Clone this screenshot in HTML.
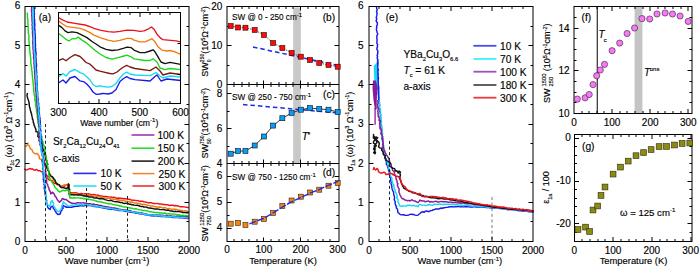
<!DOCTYPE html><html><head><meta charset="utf-8"><style>html,body{margin:0;padding:0;background:#fff;}svg{display:block;} text{stroke:#000;stroke-width:0.15px;}</style></head><body>
<svg width="700" height="269" viewBox="0 0 700 269" font-family="Liberation Sans, sans-serif" fill="#000">
<rect x="0" y="0" width="700" height="269" fill="#fff"/>
<polyline points="24.50,169.00 25.70,169.62 27.00,170.00 28.44,169.14 30.00,168.50 31.08,169.06 32.46,168.87 33.40,169.80 35.10,170.21 36.70,169.50 38.14,170.69 40.00,170.80 41.20,171.78 42.96,171.73 44.00,173.00 44.97,173.96 46.21,174.64 47.00,175.80 48.12,176.68 47.82,178.50 48.51,179.67 50.00,180.30 51.89,180.38 53.00,181.90 54.18,183.31 56.00,183.60 56.89,184.45 58.12,184.83 59.22,185.38 60.00,186.40 62.00,187.50 63.66,186.92 65.00,185.80 67.00,184.70 68.50,184.00 68.71,185.29 68.43,186.63 68.61,187.93 69.69,189.13 68.69,190.55 69.30,191.80 70.39,192.43 71.57,192.72 72.81,192.78 74.00,193.00 75.23,192.80 76.43,192.89 77.63,193.11 78.77,193.79 80.00,193.60 81.26,193.54 82.51,193.66 83.73,194.10 85.01,193.77 86.25,194.01 87.50,194.01 88.77,193.82 90.00,194.20 91.24,194.45 92.46,194.82 93.79,194.54 95.03,194.78 96.26,195.10 97.55,195.03 98.75,195.54 99.97,195.95 101.23,196.03 102.50,196.14 103.71,196.55 105.00,196.50 106.25,196.40 107.44,196.84 108.68,196.85 109.88,197.15 111.14,196.95 112.31,197.56 113.59,197.23 114.81,197.42 115.97,198.01 117.19,198.26 118.45,198.04 119.67,198.17 120.91,198.20 122.13,198.37 123.32,198.75 124.58,198.59 125.81,198.69 127.00,199.10 128.22,199.26 129.46,199.26 130.62,199.79 131.81,200.10 133.02,200.27 134.27,200.25 135.49,200.36 136.69,200.61 137.95,200.51 139.08,201.19 140.33,201.13 141.55,201.31 142.78,201.34 143.95,201.79 145.15,202.08 146.38,202.14 147.54,202.67 148.77,202.73 150.00,202.80 151.23,202.77 152.42,203.11 153.60,203.53 154.85,203.40 156.05,203.61 157.31,203.38 158.49,203.82 159.70,203.95 160.92,204.05 162.13,204.21 163.33,204.47 164.55,204.59 165.76,204.70 167.00,204.62 168.19,204.96 169.36,205.48 170.62,205.24 171.86,205.12 173.08,205.25 174.25,205.76 175.50,205.57 176.71,205.75 177.92,205.91 179.10,206.29 180.27,206.81 181.53,206.61 182.74,206.74 183.96,206.87 185.16,207.06 186.38,207.17 187.57,207.51 188.80,207.50" fill="none" stroke="#e8141c" stroke-width="1.45" stroke-linejoin="round" />
<polyline points="26.00,147.00 26.59,145.63 27.43,144.38 28.00,143.00 27.79,144.53 29.06,145.48 29.49,146.76 30.00,148.00 30.68,149.10 32.04,149.65 32.38,151.01 33.02,152.15 34.00,153.00 35.25,153.77 36.70,153.50 38.02,154.17 38.42,155.45 39.46,156.31 39.09,158.09 39.98,159.05 41.67,159.47 41.70,161.00 42.19,162.54 43.26,163.39 44.67,163.84 45.90,164.50 46.07,165.73 47.22,166.65 47.00,168.00 48.32,169.11 47.95,170.82 49.25,171.93 49.00,173.60 50.21,174.39 50.88,175.54 51.95,176.42 52.00,178.00 52.85,178.86 53.68,179.73 53.94,181.11 55.17,181.62 56.00,182.50 56.84,183.52 58.00,184.15 58.81,185.20 60.00,185.80 62.00,185.80 63.47,185.18 65.00,184.70 67.00,185.30 68.30,186.13 69.00,187.50 68.31,189.07 68.52,190.52 68.99,191.93 69.80,193.30 71.06,193.59 72.37,193.47 73.65,193.56 74.92,193.75 76.21,193.75 77.43,194.39 78.73,194.28 80.00,194.50 81.23,194.85 82.51,194.65 83.72,195.16 84.98,195.19 86.28,194.71 87.52,194.97 88.72,195.57 90.00,195.40 91.25,195.60 92.44,196.16 93.76,195.98 95.05,195.97 96.23,196.57 97.47,196.89 98.78,196.76 100.05,196.85 101.27,197.23 102.44,197.89 103.72,197.96 105.00,198.00 106.26,197.92 107.47,198.19 108.71,198.27 109.93,198.43 111.08,199.12 112.37,198.88 113.55,199.32 114.78,199.43 116.03,199.44 117.20,199.99 118.48,199.76 119.65,200.30 120.93,200.12 122.12,200.51 123.36,200.55 124.58,200.77 125.73,201.44 127.00,201.30 128.17,201.75 129.45,201.64 130.58,202.27 131.88,202.05 133.07,202.41 134.22,202.96 135.45,203.06 136.74,202.92 137.83,203.77 139.14,203.47 140.35,203.74 141.49,204.33 142.76,204.26 143.97,204.48 145.22,204.56 146.42,204.81 147.57,205.38 148.82,205.39 150.00,205.80 151.20,206.05 152.44,206.07 153.64,206.30 154.80,206.83 156.06,206.68 157.27,206.92 158.45,207.30 159.73,207.01 160.95,207.16 162.08,207.86 163.31,207.98 164.58,207.76 165.79,207.90 166.95,208.46 168.14,208.78 169.43,208.44 170.57,209.14 171.79,209.27 173.03,209.26 174.26,209.31 175.50,209.27 176.72,209.40 177.84,210.22 179.13,209.89 180.29,210.39 181.55,210.26 182.70,210.83 183.94,210.85 185.18,210.82 186.41,210.92 187.57,211.47 188.80,211.50" fill="none" stroke="#f07c10" stroke-width="1.45" stroke-linejoin="round" />
<polyline points="27.40,93.00 27.21,94.25 27.00,95.50 27.32,96.92 27.72,98.32 28.20,99.70 28.62,100.85 28.93,102.02 28.99,103.24 29.28,104.42 29.26,105.66 29.56,106.83 29.90,108.00 30.19,109.37 30.55,110.73 30.84,112.10 31.43,113.40 31.60,114.80 31.95,116.15 32.40,117.48 32.36,118.93 33.09,120.19 33.20,121.60 33.39,122.80 34.08,123.86 33.90,125.17 34.84,126.16 34.90,127.40 35.61,128.63 36.00,130.00 35.93,131.48 37.80,132.18 38.23,133.46 38.00,135.00 37.73,136.45 38.84,137.41 39.98,138.35 38.89,140.09 39.39,141.27 41.23,141.97 41.00,143.40 41.53,144.51 42.42,145.51 42.52,146.77 42.39,148.11 43.57,149.00 43.07,150.48 44.56,151.26 44.76,152.49 44.06,154.03 45.00,155.00 45.51,156.32 45.82,157.68 45.85,159.12 46.40,160.43 46.70,161.80 47.09,162.97 47.91,164.07 46.85,165.46 46.61,166.73 46.78,167.93 47.52,169.05 48.00,170.20 48.83,171.33 49.42,172.57 49.49,174.07 50.12,175.30 51.00,176.40 52.46,176.78 53.32,177.85 54.00,179.10 54.95,180.09 55.48,181.36 55.79,182.78 57.00,183.60 58.00,184.53 59.58,184.85 60.00,186.40 61.30,187.50 63.00,187.50 64.54,187.93 66.00,188.60 68.00,187.50 68.33,185.76 68.60,184.00 69.19,185.16 68.91,186.39 69.07,187.59 68.47,188.84 69.76,189.95 69.04,191.21 69.80,192.36 68.96,193.63 69.40,194.80 70.73,194.50 72.05,194.69 73.38,194.77 74.70,195.00 76.03,194.61 77.35,194.92 78.68,194.77 80.00,195.00 81.28,195.09 82.50,195.46 83.69,196.03 85.00,195.94 86.19,196.50 87.54,196.20 88.69,196.95 90.00,196.90 91.27,197.03 92.54,197.14 93.72,197.75 94.95,198.08 96.31,197.69 97.53,198.09 98.72,198.66 100.02,198.59 101.28,198.75 102.56,198.81 103.81,199.06 105.00,199.60 106.21,199.90 107.38,200.38 108.60,200.61 109.89,200.49 111.17,200.38 112.36,200.81 113.52,201.35 114.74,201.61 115.98,201.70 117.26,201.64 118.44,202.06 119.67,202.25 120.87,202.58 122.14,202.55 123.28,203.24 124.51,203.43 125.82,203.15 127.00,203.60 128.24,203.69 129.37,204.32 130.66,204.14 131.78,204.83 133.05,204.77 134.24,205.12 135.45,205.36 136.72,205.26 137.92,205.54 139.14,205.75 140.29,206.27 141.50,206.51 142.79,206.36 143.90,207.11 145.17,207.02 146.40,207.13 147.59,207.49 148.73,208.10 150.00,208.00 151.21,208.20 152.41,208.40 153.60,208.76 154.81,208.95 156.04,208.96 157.28,208.88 158.48,209.16 159.66,209.53 160.89,209.61 162.12,209.62 163.35,209.61 164.56,209.78 165.74,210.19 166.97,210.23 168.23,210.01 169.38,210.65 170.58,210.94 171.80,211.02 173.00,211.24 174.21,211.41 175.46,211.31 176.65,211.64 177.90,211.51 179.14,211.47 180.33,211.80 181.54,211.93 182.70,212.52 183.93,212.51 185.16,212.56 186.36,212.77 187.62,212.58 188.80,213.00" fill="none" stroke="#111" stroke-width="1.45" stroke-linejoin="round" />
<polyline points="27.30,12.50 27.48,13.74 27.34,15.00 27.40,16.25 27.38,17.51 27.78,18.74 27.82,19.99 27.93,21.24 27.95,22.49 27.76,23.76 28.13,24.99 27.99,26.25 28.21,27.49 28.24,28.74 28.20,30.00 28.33,31.25 28.23,32.51 28.45,33.75 28.84,34.98 28.81,36.24 28.98,37.49 28.71,38.76 28.85,40.01 28.95,41.26 29.04,42.51 29.18,43.76 29.18,45.02 29.35,46.26 29.72,47.49 29.53,48.76 29.80,50.00 29.92,51.21 29.91,52.44 30.12,53.64 30.31,54.85 30.46,56.05 30.54,57.27 30.72,58.48 30.94,59.68 30.70,60.92 30.83,62.14 30.86,63.36 31.12,64.55 31.31,65.76 31.33,66.98 31.75,68.16 31.60,69.40 31.84,70.60 32.09,71.80 32.19,73.02 32.15,74.24 32.40,75.44 32.42,76.66 32.47,77.88 32.69,79.09 32.94,80.29 32.88,81.51 33.12,82.71 33.24,83.93 33.38,85.14 33.41,86.36 33.68,87.56 33.51,88.80 33.70,90.00 33.65,91.28 34.10,92.49 34.12,93.77 34.19,95.03 34.80,96.22 34.93,97.48 34.77,98.77 34.93,100.02 35.21,101.26 35.62,102.48 35.67,103.74 35.62,105.03 35.78,106.28 36.00,107.52 36.47,108.73 36.50,110.00 36.49,111.27 36.90,112.49 36.90,113.76 37.35,114.98 37.11,116.28 37.46,117.51 37.57,118.76 37.99,119.98 37.96,121.26 38.15,122.51 38.31,123.76 38.69,124.98 38.42,126.29 39.05,127.47 39.27,128.72 39.20,130.00 39.94,131.09 39.70,132.46 40.72,133.47 40.94,134.71 41.48,135.85 41.18,137.25 41.70,138.40 41.93,139.63 42.25,140.85 43.14,141.92 42.97,143.26 43.38,144.45 43.97,145.59 44.38,146.78 43.52,148.29 44.84,149.26 44.93,150.52 45.00,151.80 45.50,153.00 45.35,154.31 46.19,155.45 45.96,156.78 46.31,158.00 45.99,159.35 47.20,160.42 47.04,161.73 47.08,163.01 46.75,164.36 47.52,165.51 47.80,166.75 48.00,168.00 48.02,169.27 48.68,170.42 49.22,171.60 48.89,172.93 48.63,174.25 49.05,175.45 49.84,176.58 49.56,177.91 50.00,179.10 50.40,180.46 51.74,181.19 52.16,182.53 53.00,183.60 53.82,184.82 54.61,186.06 55.00,187.50 56.19,188.46 57.27,189.53 58.00,190.90 60.00,192.00 61.41,190.99 63.00,190.30 65.00,190.90 66.39,190.06 68.00,190.30 69.30,191.00 69.56,192.39 70.07,193.75 69.41,195.23 69.74,196.61 70.00,198.00 71.25,197.70 72.50,198.16 73.75,197.81 75.00,197.99 76.25,198.03 77.50,197.90 78.75,197.87 80.00,198.00 81.26,198.16 82.53,198.18 83.72,198.82 85.04,198.57 86.22,199.19 87.53,199.03 88.77,199.28 90.00,199.60 91.26,199.82 92.56,199.89 93.80,200.23 95.02,200.65 96.26,200.98 97.45,201.52 98.69,201.87 100.06,201.60 101.25,202.17 102.55,202.22 103.71,202.89 105.00,203.00 106.24,203.13 107.40,203.71 108.66,203.74 109.93,203.74 111.17,203.90 112.36,204.29 113.51,204.89 114.82,204.70 116.00,205.14 117.24,205.31 118.46,205.54 119.63,206.04 120.92,205.94 122.09,206.47 123.31,206.68 124.51,207.08 125.78,207.07 127.00,207.30 128.16,207.78 129.43,207.73 130.62,208.04 131.83,208.30 133.01,208.66 134.22,208.92 135.52,208.69 136.73,208.94 137.89,209.40 139.07,209.80 140.31,209.87 141.55,209.96 142.68,210.58 143.97,210.42 145.20,210.53 146.42,210.74 147.63,210.96 148.76,211.60 150.00,211.70 151.24,211.60 152.41,212.10 153.61,212.32 154.82,212.54 156.04,212.56 157.28,212.46 158.48,212.71 159.68,212.97 160.90,213.04 162.14,212.92 163.32,213.33 164.58,213.08 165.78,213.33 166.94,213.88 168.19,213.70 169.42,213.71 170.59,214.15 171.83,214.09 173.07,213.96 174.28,214.11 175.48,214.38 176.69,214.56 177.86,215.05 179.12,214.77 180.29,215.27 181.50,215.40 182.74,215.28 183.92,215.76 185.15,215.75 186.38,215.72 187.60,215.72 188.80,216.00" fill="none" stroke="#18d818" stroke-width="1.45" stroke-linejoin="round" />
<polyline points="31.50,6.60 31.74,7.80 31.49,9.02 31.57,10.22 31.47,11.43 31.85,12.62 31.91,13.83 31.71,15.04 31.80,16.25 32.02,17.45 31.88,18.66 32.07,19.86 31.93,21.07 32.30,22.26 32.30,23.47 32.01,24.69 32.33,25.89 32.42,27.09 32.20,28.31 32.33,29.51 32.62,30.70 32.47,31.92 32.46,33.13 32.75,34.32 32.56,35.54 32.87,36.73 32.81,37.94 32.98,39.14 32.97,40.35 32.63,41.57 32.96,42.76 32.72,43.98 33.04,45.18 33.00,46.39 32.92,47.60 33.06,48.80 33.20,50.00 33.47,51.20 33.31,52.43 33.36,53.64 33.66,54.84 33.78,56.05 33.47,57.28 33.72,58.49 33.96,59.69 33.91,60.91 34.10,62.11 33.88,63.34 34.11,64.55 34.38,65.75 34.10,66.98 34.54,68.17 34.52,69.39 34.72,70.59 34.44,71.83 34.83,73.02 34.70,74.24 34.99,75.44 34.88,76.67 34.85,77.88 35.00,79.09 35.12,80.30 35.18,81.51 35.28,82.73 35.27,83.94 35.60,85.14 35.49,86.36 35.68,87.57 35.44,88.80 35.70,90.00 35.60,91.27 36.15,92.48 36.22,93.73 36.06,95.01 36.24,96.25 36.63,97.48 36.40,98.76 36.40,100.02 36.77,101.25 36.93,102.49 36.93,103.75 36.86,105.02 37.31,106.24 37.41,107.49 37.58,108.74 37.48,110.01 37.67,111.25 37.89,112.49 37.94,113.74 38.00,115.00 38.32,116.22 38.27,117.46 38.02,118.72 38.30,119.94 38.54,121.17 38.30,122.42 38.68,123.64 38.82,124.87 39.34,126.07 39.29,127.32 39.32,128.56 39.37,129.79 38.68,131.08 39.50,132.27 39.61,133.50 39.27,134.77 38.98,136.03 39.81,137.21 39.34,138.48 39.90,139.68 39.75,140.94 39.80,142.17 40.00,143.40 39.86,144.76 40.45,145.89 41.10,147.00 41.09,148.32 42.01,149.35 42.36,150.56 42.60,151.80 42.32,153.27 43.08,154.54 43.08,155.96 43.89,157.22 43.44,158.73 44.20,160.00 44.22,161.27 44.80,162.46 44.13,163.81 44.84,165.00 45.14,166.23 45.38,167.47 45.72,168.69 45.40,170.00 45.88,171.37 45.41,172.82 46.19,174.16 46.17,175.58 46.00,177.00 46.26,178.31 46.35,179.65 46.74,180.94 46.46,182.33 47.00,183.60 47.68,184.69 47.95,185.91 48.29,187.11 49.02,188.18 49.00,189.50 49.88,190.85 50.53,192.28 50.70,193.90 51.74,193.24 52.40,192.20 53.83,193.34 54.60,195.00 55.16,196.40 56.36,197.44 56.80,198.90 57.60,200.15 58.52,201.29 59.60,202.30 60.16,201.22 61.42,200.65 61.85,199.48 62.40,198.40 63.47,199.01 64.60,199.50 66.20,199.54 67.40,200.60 68.57,201.36 69.60,202.30 70.81,202.72 71.90,203.40 73.25,203.25 74.63,203.39 75.97,203.22 77.27,202.61 78.66,202.84 80.00,202.60 81.22,202.98 82.50,202.88 83.77,202.73 84.98,203.32 86.25,203.18 87.47,203.64 88.73,203.70 90.00,203.60 91.21,204.04 92.45,204.34 93.80,204.07 94.97,204.74 96.27,204.69 97.54,204.84 98.76,205.22 99.99,205.59 101.31,205.48 102.51,205.99 103.72,206.43 105.00,206.50 106.22,206.71 107.44,206.94 108.69,207.01 109.84,207.62 111.14,207.41 112.31,207.87 113.54,208.06 114.83,207.89 115.95,208.69 117.25,208.45 118.39,209.11 119.62,209.29 120.85,209.48 122.07,209.67 123.34,209.61 124.56,209.85 125.79,210.00 127.00,210.30 128.16,210.79 129.47,210.49 130.67,210.78 131.79,211.50 133.02,211.64 134.24,211.81 135.42,212.20 136.68,212.17 137.86,212.58 139.11,212.58 140.27,213.08 141.57,212.83 142.74,213.27 143.94,213.59 145.12,213.95 146.38,213.96 147.56,214.34 148.74,214.74 150.00,214.70 151.22,214.72 152.44,214.66 153.65,214.63 154.84,215.20 156.06,215.05 157.28,215.06 158.49,215.21 159.71,215.05 160.92,215.18 162.13,215.26 163.35,215.34 164.54,215.78 165.77,215.48 166.99,215.46 168.17,216.00 169.40,215.88 170.63,215.64 171.82,216.10 173.03,216.18 174.24,216.23 175.45,216.37 176.68,216.24 177.90,216.19 179.09,216.57 180.31,216.57 181.52,216.69 182.75,216.45 183.95,216.64 185.16,216.90 186.38,216.79 187.58,216.99 188.80,217.00" fill="none" stroke="#8a1a9a" stroke-width="1.45" stroke-linejoin="round" />
<polyline points="34.00,6.60 33.81,7.81 34.34,9.00 34.02,10.22 34.36,11.42 33.99,12.64 34.52,13.82 34.14,15.05 34.29,16.25 34.25,17.46 34.22,18.67 34.65,19.86 34.65,21.06 34.51,22.28 34.77,23.47 34.83,24.68 34.89,25.88 34.62,27.10 34.66,28.31 34.75,29.51 35.08,30.71 34.78,31.92 35.03,33.12 35.22,34.32 35.16,35.53 35.22,36.74 35.44,37.94 35.24,39.15 35.39,40.35 35.33,41.56 35.20,42.78 35.39,43.98 35.56,45.18 35.38,46.39 35.36,47.60 35.66,48.79 35.70,50.00 35.53,51.22 36.04,52.41 36.03,53.63 36.06,54.84 35.72,56.07 35.90,57.28 35.93,58.49 36.19,59.69 36.14,60.91 35.99,62.13 36.43,63.33 36.47,64.54 36.56,65.75 36.39,66.97 36.26,68.19 36.45,69.40 36.57,70.60 36.57,71.82 36.78,73.02 36.45,74.25 36.79,75.45 36.90,76.66 36.91,77.88 36.70,79.10 37.00,80.30 36.76,81.52 37.09,82.72 37.09,83.94 37.32,85.14 36.95,86.37 37.06,87.58 37.26,88.79 37.30,90.00 37.60,91.18 37.52,92.40 37.69,93.59 37.56,94.82 37.63,96.02 37.83,97.21 38.16,98.39 38.39,99.58 38.08,100.82 38.16,102.02 38.66,103.18 38.60,104.40 38.71,105.60 38.57,106.82 39.15,107.98 39.25,109.18 38.96,110.42 39.21,111.60 39.37,112.80 39.32,114.01 39.52,115.20 39.58,116.41 39.91,117.59 40.10,118.78 40.00,120.00 40.33,121.20 40.26,122.43 40.19,123.66 40.41,124.87 40.62,126.07 40.38,127.31 40.36,128.54 40.58,129.75 41.01,130.94 40.48,132.20 40.60,133.42 40.57,134.64 40.66,135.86 41.80,137.00 41.10,138.28 41.57,139.47 41.61,140.69 41.54,141.91 42.08,143.10 42.04,144.33 41.24,145.61 42.12,146.77 42.00,148.00 41.56,149.24 41.89,150.44 42.39,151.63 42.45,152.85 42.16,154.08 42.10,155.30 42.59,156.49 42.99,157.69 42.91,158.91 42.14,160.16 42.35,161.37 43.16,162.55 42.34,163.80 42.80,165.00 42.78,166.30 43.14,167.59 42.54,168.93 43.52,170.18 43.63,171.47 43.41,172.79 43.01,174.12 43.30,175.40 43.45,176.70 43.50,178.00 43.15,179.32 43.90,180.53 43.57,181.86 44.64,183.03 43.84,184.40 44.73,185.59 44.27,186.93 44.19,188.23 44.54,189.47 44.77,190.74 45.00,192.00 45.12,193.20 45.06,194.43 45.70,195.55 46.04,196.71 45.83,197.96 46.06,199.14 46.72,200.26 46.40,201.53 46.66,202.70 46.80,203.90 47.61,204.88 47.42,206.24 47.76,207.39 48.50,208.40 50.10,209.50 50.47,208.03 51.20,206.70 52.90,206.20 53.08,207.50 53.51,208.67 54.60,209.50 54.99,210.72 55.83,211.72 56.30,212.90 57.90,214.50 60.20,214.00 60.49,212.75 60.86,211.54 61.80,210.60 61.97,209.26 63.22,208.29 62.58,206.68 63.50,205.60 65.00,206.50 66.42,207.24 68.00,207.00 70.00,207.30 71.27,207.23 72.53,207.09 73.71,206.50 75.01,206.64 76.22,206.19 77.52,206.28 78.78,206.16 80.00,205.80 81.25,205.90 82.50,205.75 83.76,205.92 85.00,205.49 86.24,205.41 87.51,205.79 88.74,205.27 90.00,205.50 91.26,205.68 92.51,205.92 93.71,206.42 95.01,206.36 96.24,206.71 97.50,206.90 98.75,207.12 100.00,207.35 101.25,207.58 102.49,207.89 103.76,208.03 105.00,208.30 106.23,208.43 107.41,208.90 108.63,209.10 109.91,208.84 111.07,209.43 112.37,209.05 113.57,209.41 114.74,209.91 116.03,209.65 117.21,210.12 118.40,210.49 119.66,210.43 120.89,210.51 122.15,210.43 123.34,210.85 124.56,211.03 125.75,211.40 127.00,211.40 128.22,211.55 129.39,212.01 130.64,211.99 131.83,212.34 133.03,212.63 134.30,212.50 135.43,213.18 136.69,213.10 137.90,213.33 139.06,213.84 140.31,213.82 141.52,214.00 142.77,214.04 143.98,214.26 145.13,214.79 146.37,214.86 147.56,215.16 148.77,215.40 150.00,215.50 151.20,215.70 152.43,215.57 153.62,215.98 154.85,215.82 156.08,215.74 157.26,216.24 158.47,216.35 159.72,215.97 160.90,216.52 162.12,216.49 163.35,216.32 164.55,216.59 165.74,216.89 166.99,216.52 168.18,216.91 169.41,216.74 170.63,216.78 171.81,217.34 173.02,217.46 174.24,217.34 175.45,217.51 176.68,217.36 177.89,217.47 179.10,217.67 180.30,217.88 181.52,217.90 182.74,217.84 183.94,218.03 185.17,217.98 186.36,218.31 187.57,218.43 188.80,218.30" fill="none" stroke="#1a1ae8" stroke-width="1.45" stroke-linejoin="round" />
<polyline points="32.70,6.60 32.81,7.80 32.80,9.01 32.87,10.22 32.90,11.42 32.97,12.63 32.89,13.84 33.13,15.03 32.99,16.25 33.34,17.44 33.24,18.65 33.27,19.86 33.41,21.06 33.16,22.28 33.42,23.47 33.22,24.69 33.18,25.90 33.58,27.09 33.30,28.31 33.39,29.51 33.51,30.71 33.87,31.91 33.70,33.12 33.66,34.33 33.87,35.53 33.95,36.73 33.95,37.94 34.02,39.15 33.80,40.36 34.06,41.56 34.07,42.77 34.01,43.97 33.90,45.19 34.27,46.38 34.44,47.58 34.02,48.80 34.30,50.00 34.22,51.22 34.32,52.43 34.53,53.64 34.76,54.84 34.88,56.05 34.89,57.27 34.89,58.48 35.17,59.68 34.94,60.92 35.00,62.13 35.44,63.32 35.11,64.56 35.37,65.76 35.24,66.98 35.54,68.18 35.46,69.40 35.71,70.60 35.72,71.82 35.85,73.03 36.17,74.23 36.20,75.44 36.23,76.66 36.23,77.88 36.33,79.09 36.33,80.30 36.35,81.52 36.56,82.72 36.68,83.93 36.67,85.15 36.53,86.38 36.70,87.59 36.84,88.79 37.00,90.00 36.94,91.26 37.34,92.49 37.50,93.73 37.60,94.98 37.69,96.23 37.84,97.48 37.64,98.76 37.59,100.02 38.09,101.23 37.91,102.51 37.88,103.77 38.07,105.01 38.47,106.24 38.33,107.51 38.62,108.74 38.76,109.99 38.94,111.23 38.79,112.50 38.69,113.77 39.00,115.00 39.27,116.23 39.32,117.46 39.27,118.71 39.51,119.94 39.37,121.18 39.31,122.43 39.51,123.66 39.79,124.88 40.20,126.10 40.07,127.35 39.57,128.62 39.34,129.87 39.91,131.08 40.46,132.29 40.40,133.54 40.23,134.79 40.67,136.00 40.73,137.24 40.42,138.50 40.00,139.76 40.79,140.96 40.09,142.24 40.17,143.48 40.77,144.68 41.09,145.91 41.21,147.14 40.90,148.40 40.95,149.64 41.00,150.88 41.20,152.09 42.21,153.13 42.20,154.38 42.92,155.49 42.60,156.80 42.91,157.99 42.99,159.19 43.27,160.37 43.40,161.57 42.37,162.84 43.27,163.99 43.11,165.20 43.14,166.40 43.29,167.60 43.22,168.81 43.40,170.00 43.60,171.25 43.81,172.50 44.50,173.67 44.20,175.00 44.15,176.26 44.21,177.52 44.26,178.77 44.86,179.98 44.79,181.25 44.48,182.53 44.69,183.77 45.60,184.95 45.37,186.23 45.68,187.47 45.14,188.77 45.50,190.00 45.68,191.21 45.76,192.43 46.02,193.64 45.81,194.87 45.56,196.10 45.72,197.32 46.28,198.51 46.13,199.74 45.93,200.97 46.67,202.15 46.20,203.40 47.90,205.00 49.60,206.20 50.61,204.65 50.70,202.80 51.10,201.35 52.40,200.60 52.62,201.94 53.54,203.09 53.50,204.50 53.54,206.10 54.60,207.30 54.96,208.51 56.03,209.35 56.30,210.60 57.40,211.15 58.50,211.70 59.89,210.89 60.70,209.50 61.53,208.39 61.73,207.06 62.13,205.80 62.40,204.50 63.22,203.21 63.50,201.70 64.00,202.90 65.20,203.40 66.29,204.51 67.40,205.60 69.60,206.20 70.78,205.66 71.90,205.00 73.26,205.10 74.60,204.84 75.94,204.58 77.30,204.71 78.64,204.49 80.00,204.50 81.24,204.69 82.49,204.77 83.74,204.93 85.01,204.52 86.26,204.53 87.49,205.13 88.74,205.08 90.00,205.00 91.20,205.53 92.47,205.65 93.70,205.97 95.04,205.73 96.28,205.98 97.49,206.47 98.72,206.79 100.04,206.64 101.20,207.36 102.53,207.17 103.78,207.39 105.00,207.80 106.23,207.94 107.47,207.97 108.70,208.09 109.93,208.26 111.15,208.41 112.36,208.66 113.54,209.15 114.75,209.39 115.98,209.56 117.23,209.53 118.42,209.91 119.70,209.70 120.86,210.33 122.12,210.24 123.37,210.24 124.57,210.58 125.80,210.64 127.00,211.00 128.19,211.35 129.43,211.35 130.68,211.35 131.87,211.66 133.10,211.80 134.22,212.53 135.48,212.42 136.66,212.85 137.89,212.95 139.11,213.05 140.29,213.45 141.52,213.56 142.78,213.47 143.90,214.24 145.17,214.07 146.35,214.46 147.59,214.53 148.74,215.06 150.00,215.00 151.23,214.89 152.45,214.92 153.66,215.01 154.85,215.32 156.05,215.68 157.28,215.53 158.47,215.91 159.72,215.54 160.89,216.12 162.14,215.74 163.32,216.26 164.56,215.94 165.76,216.27 166.97,216.38 168.17,216.69 169.40,216.45 170.60,216.80 171.85,216.42 173.02,217.02 174.25,216.89 175.46,216.99 176.65,217.34 177.90,217.04 179.09,217.32 180.31,217.40 181.53,217.32 182.75,217.32 183.95,217.58 185.17,217.59 186.37,217.88 187.59,217.85 188.80,218.00" fill="none" stroke="#18d8f0" stroke-width="1.45" stroke-linejoin="round" />
<line x1="45.50" y1="124.00" x2="45.50" y2="241.50" stroke="#222" stroke-width="1.0" stroke-dasharray="3,2.6"/>
<line x1="86.50" y1="188.00" x2="86.50" y2="241.50" stroke="#222" stroke-width="1.0" stroke-dasharray="3,2.6"/>
<line x1="127.50" y1="196.00" x2="127.50" y2="241.50" stroke="#222" stroke-width="1.0" stroke-dasharray="3,2.6"/>
<rect x="25.00" y="6.50" width="164.00" height="235.00" fill="none" stroke="#000" stroke-width="1.0"/>
<line x1="35.00" y1="241.50" x2="35.00" y2="239.00" stroke="#000" stroke-width="1.0" />
<line x1="35.00" y1="6.50" x2="35.00" y2="9.00" stroke="#000" stroke-width="1.0" />
<line x1="46.00" y1="241.50" x2="46.00" y2="239.00" stroke="#000" stroke-width="1.0" />
<line x1="46.00" y1="6.50" x2="46.00" y2="9.00" stroke="#000" stroke-width="1.0" />
<line x1="56.00" y1="241.50" x2="56.00" y2="239.00" stroke="#000" stroke-width="1.0" />
<line x1="56.00" y1="6.50" x2="56.00" y2="9.00" stroke="#000" stroke-width="1.0" />
<line x1="76.00" y1="241.50" x2="76.00" y2="239.00" stroke="#000" stroke-width="1.0" />
<line x1="76.00" y1="6.50" x2="76.00" y2="9.00" stroke="#000" stroke-width="1.0" />
<line x1="86.00" y1="241.50" x2="86.00" y2="239.00" stroke="#000" stroke-width="1.0" />
<line x1="86.00" y1="6.50" x2="86.00" y2="9.00" stroke="#000" stroke-width="1.0" />
<line x1="97.00" y1="241.50" x2="97.00" y2="239.00" stroke="#000" stroke-width="1.0" />
<line x1="97.00" y1="6.50" x2="97.00" y2="9.00" stroke="#000" stroke-width="1.0" />
<line x1="117.00" y1="241.50" x2="117.00" y2="239.00" stroke="#000" stroke-width="1.0" />
<line x1="117.00" y1="6.50" x2="117.00" y2="9.00" stroke="#000" stroke-width="1.0" />
<line x1="128.00" y1="241.50" x2="128.00" y2="239.00" stroke="#000" stroke-width="1.0" />
<line x1="128.00" y1="6.50" x2="128.00" y2="9.00" stroke="#000" stroke-width="1.0" />
<line x1="138.00" y1="241.50" x2="138.00" y2="239.00" stroke="#000" stroke-width="1.0" />
<line x1="138.00" y1="6.50" x2="138.00" y2="9.00" stroke="#000" stroke-width="1.0" />
<line x1="158.00" y1="241.50" x2="158.00" y2="239.00" stroke="#000" stroke-width="1.0" />
<line x1="158.00" y1="6.50" x2="158.00" y2="9.00" stroke="#000" stroke-width="1.0" />
<line x1="168.00" y1="241.50" x2="168.00" y2="239.00" stroke="#000" stroke-width="1.0" />
<line x1="168.00" y1="6.50" x2="168.00" y2="9.00" stroke="#000" stroke-width="1.0" />
<line x1="179.00" y1="241.50" x2="179.00" y2="239.00" stroke="#000" stroke-width="1.0" />
<line x1="179.00" y1="6.50" x2="179.00" y2="9.00" stroke="#000" stroke-width="1.0" />
<line x1="66.00" y1="241.50" x2="66.00" y2="237.00" stroke="#000" stroke-width="1.0" />
<line x1="66.00" y1="6.50" x2="66.00" y2="11.00" stroke="#000" stroke-width="1.0" />
<line x1="107.00" y1="241.50" x2="107.00" y2="237.00" stroke="#000" stroke-width="1.0" />
<line x1="107.00" y1="6.50" x2="107.00" y2="11.00" stroke="#000" stroke-width="1.0" />
<line x1="148.00" y1="241.50" x2="148.00" y2="237.00" stroke="#000" stroke-width="1.0" />
<line x1="148.00" y1="6.50" x2="148.00" y2="11.00" stroke="#000" stroke-width="1.0" />
<line x1="25.00" y1="221.50" x2="27.50" y2="221.50" stroke="#000" stroke-width="1.0" />
<line x1="189.00" y1="221.50" x2="186.50" y2="221.50" stroke="#000" stroke-width="1.0" />
<line x1="25.00" y1="182.50" x2="27.50" y2="182.50" stroke="#000" stroke-width="1.0" />
<line x1="189.00" y1="182.50" x2="186.50" y2="182.50" stroke="#000" stroke-width="1.0" />
<line x1="25.00" y1="143.50" x2="27.50" y2="143.50" stroke="#000" stroke-width="1.0" />
<line x1="189.00" y1="143.50" x2="186.50" y2="143.50" stroke="#000" stroke-width="1.0" />
<line x1="25.00" y1="104.50" x2="27.50" y2="104.50" stroke="#000" stroke-width="1.0" />
<line x1="189.00" y1="104.50" x2="186.50" y2="104.50" stroke="#000" stroke-width="1.0" />
<line x1="25.00" y1="65.50" x2="27.50" y2="65.50" stroke="#000" stroke-width="1.0" />
<line x1="189.00" y1="65.50" x2="186.50" y2="65.50" stroke="#000" stroke-width="1.0" />
<line x1="25.00" y1="26.50" x2="27.50" y2="26.50" stroke="#000" stroke-width="1.0" />
<line x1="189.00" y1="26.50" x2="186.50" y2="26.50" stroke="#000" stroke-width="1.0" />
<line x1="25.00" y1="202.50" x2="29.50" y2="202.50" stroke="#000" stroke-width="1.0" />
<line x1="189.00" y1="202.50" x2="184.50" y2="202.50" stroke="#000" stroke-width="1.0" />
<line x1="25.00" y1="163.50" x2="29.50" y2="163.50" stroke="#000" stroke-width="1.0" />
<line x1="189.00" y1="163.50" x2="184.50" y2="163.50" stroke="#000" stroke-width="1.0" />
<line x1="25.00" y1="124.50" x2="29.50" y2="124.50" stroke="#000" stroke-width="1.0" />
<line x1="189.00" y1="124.50" x2="184.50" y2="124.50" stroke="#000" stroke-width="1.0" />
<line x1="25.00" y1="84.50" x2="29.50" y2="84.50" stroke="#000" stroke-width="1.0" />
<line x1="189.00" y1="84.50" x2="184.50" y2="84.50" stroke="#000" stroke-width="1.0" />
<line x1="25.00" y1="45.50" x2="29.50" y2="45.50" stroke="#000" stroke-width="1.0" />
<line x1="189.00" y1="45.50" x2="184.50" y2="45.50" stroke="#000" stroke-width="1.0" />
<text x="20.20" y="244.90" font-size="10.0" text-anchor="end" >0</text>
<text x="20.20" y="205.73" font-size="10.0" text-anchor="end" >1</text>
<text x="20.20" y="166.57" font-size="10.0" text-anchor="end" >2</text>
<text x="20.20" y="127.40" font-size="10.0" text-anchor="end" >3</text>
<text x="20.20" y="88.23" font-size="10.0" text-anchor="end" >4</text>
<text x="20.20" y="49.07" font-size="10.0" text-anchor="end" >5</text>
<text x="20.20" y="8.60" font-size="10.0" text-anchor="end" >6</text>
<text x="25.00" y="254.00" font-size="10.0" text-anchor="middle" >0</text>
<text x="66.00" y="254.00" font-size="10.0" text-anchor="middle" >500</text>
<text x="107.00" y="254.00" font-size="10.0" text-anchor="middle" >1000</text>
<text x="148.00" y="254.00" font-size="10.0" text-anchor="middle" >1500</text>
<text x="189.00" y="254.00" font-size="10.0" text-anchor="middle" >2000</text>
<text x="107.00" y="264.40" font-size="9.4" text-anchor="middle" >Wave number (cm<tspan dy="-3.5" font-size="6">-1</tspan><tspan dy="3.5">)</tspan></text>
<text transform="translate(11.5,131.6) rotate(-90)" text-anchor="middle"><tspan font-size="9">&#963;</tspan><tspan dy="2.5" font-size="5.5">1c</tspan><tspan dy="-2.5" font-size="9"> (&#969;) (10</tspan><tspan dy="-3.5" font-size="5.5">3</tspan><tspan dy="3.5" font-size="9"> &#937;</tspan><tspan dy="-3.5" font-size="5.5">-1</tspan><tspan dy="3.5" font-size="9">cm</tspan><tspan dy="-3.5" font-size="5.5">-1</tspan><tspan dy="3.5" font-size="9">)</tspan></text>
<text x="38.70" y="21.00" font-size="10.2" text-anchor="start" >(a)</text>
<line x1="131.50" y1="135.00" x2="154.40" y2="135.00" stroke="#9a3ab0" stroke-width="1.6" />
<text x="157.40" y="139.00" font-size="10.2" text-anchor="start" >100 K</text>
<line x1="131.50" y1="148.20" x2="154.40" y2="148.20" stroke="#28e028" stroke-width="1.6" />
<text x="157.60" y="152.20" font-size="10.2" text-anchor="start" >150 K</text>
<line x1="131.50" y1="161.10" x2="154.40" y2="161.10" stroke="#222" stroke-width="1.6" />
<text x="157.80" y="165.10" font-size="10.2" text-anchor="start" >200 K</text>
<line x1="132.50" y1="173.60" x2="154.40" y2="173.60" stroke="#f08a30" stroke-width="1.6" />
<text x="158.60" y="177.60" font-size="10.2" text-anchor="start" >250 K</text>
<line x1="132.50" y1="186.00" x2="154.40" y2="186.00" stroke="#f03030" stroke-width="1.6" />
<text x="158.60" y="190.00" font-size="10.2" text-anchor="start" >300 K</text>
<line x1="73.50" y1="173.40" x2="96.50" y2="173.40" stroke="#2a2af0" stroke-width="1.6" />
<text x="100.60" y="177.40" font-size="10.2" text-anchor="start" >10 K</text>
<line x1="73.50" y1="186.00" x2="96.50" y2="186.00" stroke="#28e0f8" stroke-width="1.6" />
<text x="100.60" y="190.00" font-size="10.2" text-anchor="start" >50 K</text>
<text x="53.00" y="145.40" font-size="10.2" text-anchor="start" >Sr<tspan dy="3" font-size="5.8">2</tspan><tspan dy="-3">Ca</tspan><tspan dy="3" font-size="5.8">12</tspan><tspan dy="-3">Cu</tspan><tspan dy="3" font-size="5.8">24</tspan><tspan dy="-3">O</tspan><tspan dy="3" font-size="5.8">41</tspan></text>
<text x="53.00" y="161.50" font-size="10.2" text-anchor="start" >c-axis</text>
<rect x="58.5" y="12.5" width="122.0" height="91.0" fill="#fff"/>
<polyline points="58.40,17.50 62.00,19.70 67.00,22.00 75.00,23.40 85.00,25.00 90.00,26.70 94.00,28.40 100.00,30.10 108.00,31.70 114.00,32.20 120.00,31.40 127.00,30.10 134.00,30.40 140.00,31.40 144.00,30.90 148.00,29.20 151.50,27.00 154.00,29.20 157.00,34.20 160.00,37.60 163.00,39.70 168.00,40.10 176.00,40.90 180.60,41.80" fill="none" stroke="#e8141c" stroke-width="1.35" stroke-linejoin="round" />
<polyline points="58.40,20.90 63.00,24.20 67.00,26.70 75.00,27.60 80.00,28.40 85.00,30.10 90.00,32.60 94.00,35.10 100.00,37.60 108.00,40.10 114.00,41.40 120.00,40.40 127.00,38.40 131.00,38.40 134.00,40.10 140.00,41.80 145.00,41.80 149.00,40.10 152.00,38.70 155.00,41.80 158.00,46.80 162.00,50.10 167.00,51.00 170.00,50.50 175.00,51.80 180.60,54.30" fill="none" stroke="#f07c10" stroke-width="1.35" stroke-linejoin="round" />
<polyline points="58.40,25.10 62.00,27.60 65.00,30.90 68.00,32.60 72.00,31.80 77.00,32.60 82.00,35.10 87.00,37.60 92.00,41.50 96.00,44.00 100.00,46.80 106.00,49.30 112.00,50.50 118.00,49.80 124.00,48.10 127.00,47.10 131.00,47.60 134.00,50.10 140.00,52.60 145.00,52.60 150.00,51.00 153.00,49.80 155.00,51.80 158.00,56.80 161.00,62.00 165.00,63.60 170.00,62.40 180.60,64.40" fill="none" stroke="#111" stroke-width="1.35" stroke-linejoin="round" />
<polyline points="58.40,33.40 62.00,36.00 66.00,39.30 69.00,41.00 72.00,38.80 76.00,38.50 78.00,37.10 82.00,40.10 86.00,42.60 90.00,46.00 94.00,49.50 100.00,54.00 106.00,57.50 112.00,59.20 118.00,57.70 124.00,56.00 127.00,55.20 131.00,56.80 134.00,58.90 145.00,60.50 150.00,60.50 153.00,58.80 157.00,62.00 160.00,68.00 165.00,69.60 170.00,68.50 180.60,69.60" fill="none" stroke="#18d818" stroke-width="1.35" stroke-linejoin="round" />
<polyline points="58.40,60.70 63.00,58.70 66.00,60.70 70.00,57.50 75.00,54.70 80.00,56.50 83.00,59.20 86.00,62.50 90.00,64.20 93.00,67.00 96.00,70.00 100.00,71.20 105.00,72.40 110.00,73.50 113.00,73.80 117.00,72.00 120.00,69.50 123.50,67.00 126.70,65.40 130.00,67.00 135.00,68.50 150.00,70.60 156.00,67.00 160.00,71.00 163.00,75.00 170.00,73.00 180.60,74.50" fill="none" stroke="#7a1a10" stroke-width="1.35" stroke-linejoin="round" />
<polyline points="58.40,77.00 63.00,73.50 66.00,76.00 70.00,71.50 75.00,69.50 80.00,72.60 84.00,74.20 87.00,77.00 90.00,80.00 93.00,84.50 96.00,86.50 100.00,85.80 103.00,86.50 108.00,87.20 112.00,86.50 116.00,83.50 120.00,77.80 123.50,74.00 126.70,72.20 130.00,74.00 135.00,75.00 150.00,75.70 156.00,72.50 160.00,76.00 163.00,78.00 170.00,76.00 180.60,77.00" fill="none" stroke="#18d8f0" stroke-width="1.35" stroke-linejoin="round" />
<polyline points="58.40,83.00 63.00,80.00 66.00,83.00 70.00,78.00 75.00,76.50 80.00,80.90 84.00,81.80 87.00,84.30 90.00,87.60 93.00,92.00 96.00,94.30 100.00,94.00 103.00,93.30 108.00,94.00 112.00,93.00 116.00,89.50 120.00,81.50 123.50,78.50 126.70,76.60 130.00,78.50 135.00,79.70 150.00,81.00 155.00,76.50 157.00,75.00 161.00,81.00 167.00,79.00 180.60,80.50" fill="none" stroke="#1a1ae8" stroke-width="1.35" stroke-linejoin="round" />
<rect x="58.50" y="12.50" width="122.00" height="91.00" fill="none" stroke="#000" stroke-width="1.0"/>
<line x1="69.00" y1="103.50" x2="69.00" y2="101.00" stroke="#000" stroke-width="1.0" />
<line x1="69.00" y1="12.50" x2="69.00" y2="15.00" stroke="#000" stroke-width="1.0" />
<line x1="79.00" y1="103.50" x2="79.00" y2="101.00" stroke="#000" stroke-width="1.0" />
<line x1="79.00" y1="12.50" x2="79.00" y2="15.00" stroke="#000" stroke-width="1.0" />
<line x1="89.00" y1="103.50" x2="89.00" y2="101.00" stroke="#000" stroke-width="1.0" />
<line x1="89.00" y1="12.50" x2="89.00" y2="15.00" stroke="#000" stroke-width="1.0" />
<line x1="109.00" y1="103.50" x2="109.00" y2="101.00" stroke="#000" stroke-width="1.0" />
<line x1="109.00" y1="12.50" x2="109.00" y2="15.00" stroke="#000" stroke-width="1.0" />
<line x1="120.00" y1="103.50" x2="120.00" y2="101.00" stroke="#000" stroke-width="1.0" />
<line x1="120.00" y1="12.50" x2="120.00" y2="15.00" stroke="#000" stroke-width="1.0" />
<line x1="130.00" y1="103.50" x2="130.00" y2="101.00" stroke="#000" stroke-width="1.0" />
<line x1="130.00" y1="12.50" x2="130.00" y2="15.00" stroke="#000" stroke-width="1.0" />
<line x1="150.00" y1="103.50" x2="150.00" y2="101.00" stroke="#000" stroke-width="1.0" />
<line x1="150.00" y1="12.50" x2="150.00" y2="15.00" stroke="#000" stroke-width="1.0" />
<line x1="160.00" y1="103.50" x2="160.00" y2="101.00" stroke="#000" stroke-width="1.0" />
<line x1="160.00" y1="12.50" x2="160.00" y2="15.00" stroke="#000" stroke-width="1.0" />
<line x1="170.00" y1="103.50" x2="170.00" y2="101.00" stroke="#000" stroke-width="1.0" />
<line x1="170.00" y1="12.50" x2="170.00" y2="15.00" stroke="#000" stroke-width="1.0" />
<line x1="99.00" y1="103.50" x2="99.00" y2="99.00" stroke="#000" stroke-width="1.0" />
<line x1="99.00" y1="12.50" x2="99.00" y2="17.00" stroke="#000" stroke-width="1.0" />
<line x1="140.00" y1="103.50" x2="140.00" y2="99.00" stroke="#000" stroke-width="1.0" />
<line x1="140.00" y1="12.50" x2="140.00" y2="17.00" stroke="#000" stroke-width="1.0" />
<line x1="58.50" y1="43.50" x2="61.50" y2="43.50" stroke="#000" stroke-width="1.0" />
<line x1="180.50" y1="43.50" x2="177.50" y2="43.50" stroke="#000" stroke-width="1.0" />
<line x1="58.50" y1="74.50" x2="61.50" y2="74.50" stroke="#000" stroke-width="1.0" />
<line x1="180.50" y1="74.50" x2="177.50" y2="74.50" stroke="#000" stroke-width="1.0" />
<text x="58.50" y="116.40" font-size="10.0" text-anchor="middle" >300</text>
<text x="99.17" y="116.40" font-size="10.0" text-anchor="middle" >400</text>
<text x="139.83" y="116.40" font-size="10.0" text-anchor="middle" >500</text>
<text x="180.50" y="116.40" font-size="10.0" text-anchor="middle" >600</text>
<text x="119.20" y="125.60" font-size="8.6" text-anchor="middle" >Wave number (cm<tspan dy="-3.5" font-size="6">-1</tspan><tspan dy="3.5">)</tspan></text>
<rect x="293.2" y="7.5" width="7.6" height="156.0" fill="#c8c8c8"/>
<rect x="227.00" y="6.50" width="112.00" height="235.00" fill="none" stroke="#000" stroke-width="1.0"/>
<line x1="227.00" y1="84.50" x2="339.00" y2="84.50" stroke="#000" stroke-width="1.0" />
<line x1="227.00" y1="163.50" x2="339.00" y2="163.50" stroke="#000" stroke-width="1.0" />
<line x1="234.00" y1="6.50" x2="234.00" y2="9.00" stroke="#000" stroke-width="1.0" />
<line x1="242.00" y1="6.50" x2="242.00" y2="9.00" stroke="#000" stroke-width="1.0" />
<line x1="249.00" y1="6.50" x2="249.00" y2="9.00" stroke="#000" stroke-width="1.0" />
<line x1="257.00" y1="6.50" x2="257.00" y2="9.00" stroke="#000" stroke-width="1.0" />
<line x1="271.00" y1="6.50" x2="271.00" y2="9.00" stroke="#000" stroke-width="1.0" />
<line x1="279.00" y1="6.50" x2="279.00" y2="9.00" stroke="#000" stroke-width="1.0" />
<line x1="286.00" y1="6.50" x2="286.00" y2="9.00" stroke="#000" stroke-width="1.0" />
<line x1="293.00" y1="6.50" x2="293.00" y2="9.00" stroke="#000" stroke-width="1.0" />
<line x1="308.00" y1="6.50" x2="308.00" y2="9.00" stroke="#000" stroke-width="1.0" />
<line x1="316.00" y1="6.50" x2="316.00" y2="9.00" stroke="#000" stroke-width="1.0" />
<line x1="323.00" y1="6.50" x2="323.00" y2="9.00" stroke="#000" stroke-width="1.0" />
<line x1="330.00" y1="6.50" x2="330.00" y2="9.00" stroke="#000" stroke-width="1.0" />
<line x1="263.50" y1="6.50" x2="263.50" y2="10.50" stroke="#000" stroke-width="1.0" />
<line x1="300.50" y1="6.50" x2="300.50" y2="10.50" stroke="#000" stroke-width="1.0" />
<line x1="234.00" y1="82.00" x2="234.00" y2="87.00" stroke="#000" stroke-width="1.0" />
<line x1="242.00" y1="82.00" x2="242.00" y2="87.00" stroke="#000" stroke-width="1.0" />
<line x1="249.00" y1="82.00" x2="249.00" y2="87.00" stroke="#000" stroke-width="1.0" />
<line x1="257.00" y1="82.00" x2="257.00" y2="87.00" stroke="#000" stroke-width="1.0" />
<line x1="271.00" y1="82.00" x2="271.00" y2="87.00" stroke="#000" stroke-width="1.0" />
<line x1="279.00" y1="82.00" x2="279.00" y2="87.00" stroke="#000" stroke-width="1.0" />
<line x1="286.00" y1="82.00" x2="286.00" y2="87.00" stroke="#000" stroke-width="1.0" />
<line x1="293.00" y1="82.00" x2="293.00" y2="87.00" stroke="#000" stroke-width="1.0" />
<line x1="308.00" y1="82.00" x2="308.00" y2="87.00" stroke="#000" stroke-width="1.0" />
<line x1="316.00" y1="82.00" x2="316.00" y2="87.00" stroke="#000" stroke-width="1.0" />
<line x1="323.00" y1="82.00" x2="323.00" y2="87.00" stroke="#000" stroke-width="1.0" />
<line x1="330.00" y1="82.00" x2="330.00" y2="87.00" stroke="#000" stroke-width="1.0" />
<line x1="263.50" y1="80.50" x2="263.50" y2="88.50" stroke="#000" stroke-width="1.0" />
<line x1="300.50" y1="80.50" x2="300.50" y2="88.50" stroke="#000" stroke-width="1.0" />
<line x1="234.00" y1="161.00" x2="234.00" y2="166.00" stroke="#000" stroke-width="1.0" />
<line x1="242.00" y1="161.00" x2="242.00" y2="166.00" stroke="#000" stroke-width="1.0" />
<line x1="249.00" y1="161.00" x2="249.00" y2="166.00" stroke="#000" stroke-width="1.0" />
<line x1="257.00" y1="161.00" x2="257.00" y2="166.00" stroke="#000" stroke-width="1.0" />
<line x1="271.00" y1="161.00" x2="271.00" y2="166.00" stroke="#000" stroke-width="1.0" />
<line x1="279.00" y1="161.00" x2="279.00" y2="166.00" stroke="#000" stroke-width="1.0" />
<line x1="286.00" y1="161.00" x2="286.00" y2="166.00" stroke="#000" stroke-width="1.0" />
<line x1="293.00" y1="161.00" x2="293.00" y2="166.00" stroke="#000" stroke-width="1.0" />
<line x1="308.00" y1="161.00" x2="308.00" y2="166.00" stroke="#000" stroke-width="1.0" />
<line x1="316.00" y1="161.00" x2="316.00" y2="166.00" stroke="#000" stroke-width="1.0" />
<line x1="323.00" y1="161.00" x2="323.00" y2="166.00" stroke="#000" stroke-width="1.0" />
<line x1="330.00" y1="161.00" x2="330.00" y2="166.00" stroke="#000" stroke-width="1.0" />
<line x1="263.50" y1="159.50" x2="263.50" y2="167.50" stroke="#000" stroke-width="1.0" />
<line x1="300.50" y1="159.50" x2="300.50" y2="167.50" stroke="#000" stroke-width="1.0" />
<line x1="234.00" y1="241.50" x2="234.00" y2="239.00" stroke="#000" stroke-width="1.0" />
<line x1="242.00" y1="241.50" x2="242.00" y2="239.00" stroke="#000" stroke-width="1.0" />
<line x1="249.00" y1="241.50" x2="249.00" y2="239.00" stroke="#000" stroke-width="1.0" />
<line x1="257.00" y1="241.50" x2="257.00" y2="239.00" stroke="#000" stroke-width="1.0" />
<line x1="271.00" y1="241.50" x2="271.00" y2="239.00" stroke="#000" stroke-width="1.0" />
<line x1="279.00" y1="241.50" x2="279.00" y2="239.00" stroke="#000" stroke-width="1.0" />
<line x1="286.00" y1="241.50" x2="286.00" y2="239.00" stroke="#000" stroke-width="1.0" />
<line x1="293.00" y1="241.50" x2="293.00" y2="239.00" stroke="#000" stroke-width="1.0" />
<line x1="308.00" y1="241.50" x2="308.00" y2="239.00" stroke="#000" stroke-width="1.0" />
<line x1="316.00" y1="241.50" x2="316.00" y2="239.00" stroke="#000" stroke-width="1.0" />
<line x1="323.00" y1="241.50" x2="323.00" y2="239.00" stroke="#000" stroke-width="1.0" />
<line x1="330.00" y1="241.50" x2="330.00" y2="239.00" stroke="#000" stroke-width="1.0" />
<line x1="263.50" y1="241.50" x2="263.50" y2="237.50" stroke="#000" stroke-width="1.0" />
<line x1="300.50" y1="241.50" x2="300.50" y2="237.50" stroke="#000" stroke-width="1.0" />
<line x1="227.00" y1="65.50" x2="229.50" y2="65.50" stroke="#000" stroke-width="1.0" />
<line x1="339.00" y1="65.50" x2="336.50" y2="65.50" stroke="#000" stroke-width="1.0" />
<line x1="227.00" y1="26.50" x2="229.50" y2="26.50" stroke="#000" stroke-width="1.0" />
<line x1="339.00" y1="26.50" x2="336.50" y2="26.50" stroke="#000" stroke-width="1.0" />
<line x1="227.00" y1="45.50" x2="231.50" y2="45.50" stroke="#000" stroke-width="1.0" />
<line x1="339.00" y1="45.50" x2="334.50" y2="45.50" stroke="#000" stroke-width="1.0" />
<line x1="227.00" y1="146.50" x2="229.50" y2="146.50" stroke="#000" stroke-width="1.0" />
<line x1="339.00" y1="146.50" x2="336.50" y2="146.50" stroke="#000" stroke-width="1.0" />
<line x1="227.00" y1="111.50" x2="229.50" y2="111.50" stroke="#000" stroke-width="1.0" />
<line x1="339.00" y1="111.50" x2="336.50" y2="111.50" stroke="#000" stroke-width="1.0" />
<line x1="227.00" y1="128.50" x2="231.50" y2="128.50" stroke="#000" stroke-width="1.0" />
<line x1="339.00" y1="128.50" x2="334.50" y2="128.50" stroke="#000" stroke-width="1.0" />
<line x1="227.00" y1="93.50" x2="231.50" y2="93.50" stroke="#000" stroke-width="1.0" />
<line x1="339.00" y1="93.50" x2="334.50" y2="93.50" stroke="#000" stroke-width="1.0" />
<line x1="227.00" y1="215.50" x2="229.50" y2="215.50" stroke="#000" stroke-width="1.0" />
<line x1="339.00" y1="215.50" x2="336.50" y2="215.50" stroke="#000" stroke-width="1.0" />
<line x1="227.00" y1="189.50" x2="229.50" y2="189.50" stroke="#000" stroke-width="1.0" />
<line x1="339.00" y1="189.50" x2="336.50" y2="189.50" stroke="#000" stroke-width="1.0" />
<line x1="227.00" y1="228.50" x2="231.50" y2="228.50" stroke="#000" stroke-width="1.0" />
<line x1="339.00" y1="228.50" x2="334.50" y2="228.50" stroke="#000" stroke-width="1.0" />
<line x1="227.00" y1="202.50" x2="231.50" y2="202.50" stroke="#000" stroke-width="1.0" />
<line x1="339.00" y1="202.50" x2="334.50" y2="202.50" stroke="#000" stroke-width="1.0" />
<line x1="227.00" y1="176.50" x2="231.50" y2="176.50" stroke="#000" stroke-width="1.0" />
<line x1="339.00" y1="176.50" x2="334.50" y2="176.50" stroke="#000" stroke-width="1.0" />
<text x="222.30" y="9.90" font-size="10.0" text-anchor="end" >20</text>
<text x="222.30" y="48.90" font-size="10.0" text-anchor="end" >10</text>
<text x="222.30" y="87.90" font-size="10.0" text-anchor="end" >0</text>
<text x="222.30" y="96.90" font-size="10.0" text-anchor="end" >8</text>
<text x="222.30" y="131.90" font-size="10.0" text-anchor="end" >6</text>
<text x="222.30" y="166.90" font-size="10.0" text-anchor="end" >4</text>
<text x="222.30" y="179.40" font-size="10.0" text-anchor="end" >6</text>
<text x="222.30" y="205.40" font-size="10.0" text-anchor="end" >5</text>
<text x="222.30" y="231.40" font-size="10.0" text-anchor="end" >4</text>
<text x="227.00" y="253.00" font-size="10.0" text-anchor="middle" >0</text>
<text x="263.90" y="253.00" font-size="10.0" text-anchor="middle" >100</text>
<text x="300.80" y="253.00" font-size="10.0" text-anchor="middle" >200</text>
<text x="337.70" y="253.00" font-size="10.0" text-anchor="middle" >300</text>
<text x="283.00" y="264.00" font-size="9.4" text-anchor="middle" >Temperature (K)</text>
<text x="232.00" y="20.10" font-size="8.2" text-anchor="start" style="stroke-width:0.12px">SW @ 0 - 250 cm<tspan dy="-3.5" font-size="6">-1</tspan></text>
<text x="322.70" y="20.80" font-size="10.2" text-anchor="start" >(b)</text>
<text x="232.00" y="100.00" font-size="8.2" text-anchor="start" style="stroke-width:0.12px">SW @ 250 - 750 cm<tspan dy="-3.5" font-size="6">-1</tspan></text>
<text x="323.00" y="98.40" font-size="10.2" text-anchor="start" >(c)</text>
<text x="232.00" y="180.00" font-size="8.2" text-anchor="start" style="stroke-width:0.12px">SW @ 750 - 1250 cm<tspan dy="-3.5" font-size="6">-1</tspan></text>
<text x="322.70" y="176.40" font-size="10.2" text-anchor="start" >(d)</text>
<text x="301.80" y="140.00" font-size="10.5" text-anchor="start" ><tspan font-style="italic">T</tspan><tspan dx="-0.6" dy="-3" font-size="7">*</tspan></text>
<text transform="translate(208,41.45) rotate(-90)" text-anchor="middle"><tspan font-size="9">SW</tspan><tspan dx="0" dy="2.5" font-size="5.0">0</tspan><tspan dx="-2.78" dy="-6.5" font-size="5.0">250</tspan><tspan dy="4" font-size="9">(10</tspan><tspan dy="-3.5" font-size="5.5">5</tspan><tspan dy="3.5" font-size="9">&#937;</tspan><tspan dy="-3.5" font-size="5.5">-1</tspan><tspan dy="3.5" font-size="9">cm</tspan><tspan dy="-3.5" font-size="5.5">-2</tspan><tspan dy="3.5" font-size="9">)</tspan></text>
<text transform="translate(208,123.2) rotate(-90)" text-anchor="middle"><tspan font-size="9">SW</tspan><tspan dx="0" dy="2.5" font-size="5.0">50</tspan><tspan dx="-5.56" dy="-6.5" font-size="5.0">750</tspan><tspan dy="4" font-size="9">(10</tspan><tspan dy="-3.5" font-size="5.5">5</tspan><tspan dy="3.5" font-size="9">&#937;</tspan><tspan dy="-3.5" font-size="5.5">-1</tspan><tspan dy="3.5" font-size="9">cm</tspan><tspan dy="-3.5" font-size="5.5">-2</tspan><tspan dy="3.5" font-size="9">)</tspan></text>
<text transform="translate(208,203.5) rotate(-90)" text-anchor="middle"><tspan font-size="9">SW</tspan><tspan dx="1.5" dy="2.5" font-size="5.8">750</tspan><tspan dx="-9.67" dy="-6.5" font-size="5.8">1250</tspan><tspan dy="4" font-size="9">(10</tspan><tspan dy="-3.5" font-size="5.5">5</tspan><tspan dy="3.5" font-size="9">&#937;</tspan><tspan dy="-3.5" font-size="5.5">-1</tspan><tspan dy="3.5" font-size="9">cm</tspan><tspan dy="-3.5" font-size="5.5">-2</tspan><tspan dy="3.5" font-size="9">)</tspan></text>
<polyline points="230.69,26.00 238.07,27.50 245.45,27.70 254.68,30.00 263.90,35.00 273.12,43.00 282.35,48.00 291.57,53.00 300.80,56.70 310.02,60.00 319.25,63.00 328.48,65.00 337.70,66.70" fill="none" stroke="#333" stroke-width="0.8" stroke-linejoin="round" stroke-dasharray="1.6,1.2"/>
<line x1="253.00" y1="47.00" x2="338.50" y2="65.60" stroke="#1a2ae8" stroke-width="1.5" stroke-dasharray="4.5,3"/>
<rect x="228.19" y="23.50" width="5.0" height="5.0" fill="#ff0a0a" stroke="#300" stroke-width="0.6"/>
<rect x="235.57" y="25.00" width="5.0" height="5.0" fill="#ff0a0a" stroke="#300" stroke-width="0.6"/>
<rect x="242.95" y="25.20" width="5.0" height="5.0" fill="#ff0a0a" stroke="#300" stroke-width="0.6"/>
<rect x="252.18" y="27.50" width="5.0" height="5.0" fill="#ff0a0a" stroke="#300" stroke-width="0.6"/>
<rect x="261.40" y="32.50" width="5.0" height="5.0" fill="#ff0a0a" stroke="#300" stroke-width="0.6"/>
<rect x="270.62" y="40.50" width="5.0" height="5.0" fill="#ff0a0a" stroke="#300" stroke-width="0.6"/>
<rect x="279.85" y="45.50" width="5.0" height="5.0" fill="#ff0a0a" stroke="#300" stroke-width="0.6"/>
<rect x="289.07" y="50.50" width="5.0" height="5.0" fill="#ff0a0a" stroke="#300" stroke-width="0.6"/>
<rect x="298.30" y="54.20" width="5.0" height="5.0" fill="#ff0a0a" stroke="#300" stroke-width="0.6"/>
<rect x="307.52" y="57.50" width="5.0" height="5.0" fill="#ff0a0a" stroke="#300" stroke-width="0.6"/>
<rect x="316.75" y="60.50" width="5.0" height="5.0" fill="#ff0a0a" stroke="#300" stroke-width="0.6"/>
<rect x="325.98" y="62.50" width="5.0" height="5.0" fill="#ff0a0a" stroke="#300" stroke-width="0.6"/>
<rect x="335.20" y="64.20" width="5.0" height="5.0" fill="#ff0a0a" stroke="#300" stroke-width="0.6"/>
<polyline points="230.69,153.70 238.07,151.00 245.45,151.00 254.68,145.50 263.90,136.50 273.12,125.60 282.35,118.20 291.57,113.00 300.80,109.70 310.02,108.00 319.25,109.00 328.48,109.70 337.70,112.00" fill="none" stroke="#222" stroke-width="0.9" stroke-linejoin="round" />
<line x1="243.00" y1="104.50" x2="338.50" y2="113.00" stroke="#1a2ae8" stroke-width="1.5" stroke-dasharray="4.5,3"/>
<rect x="228.19" y="151.20" width="5.0" height="5.0" fill="#0c9cf4" stroke="#012" stroke-width="0.6"/>
<rect x="235.57" y="148.50" width="5.0" height="5.0" fill="#0c9cf4" stroke="#012" stroke-width="0.6"/>
<rect x="242.95" y="148.50" width="5.0" height="5.0" fill="#0c9cf4" stroke="#012" stroke-width="0.6"/>
<rect x="252.18" y="143.00" width="5.0" height="5.0" fill="#0c9cf4" stroke="#012" stroke-width="0.6"/>
<rect x="261.40" y="134.00" width="5.0" height="5.0" fill="#0c9cf4" stroke="#012" stroke-width="0.6"/>
<rect x="270.62" y="123.10" width="5.0" height="5.0" fill="#0c9cf4" stroke="#012" stroke-width="0.6"/>
<rect x="279.85" y="115.70" width="5.0" height="5.0" fill="#0c9cf4" stroke="#012" stroke-width="0.6"/>
<rect x="289.07" y="110.50" width="5.0" height="5.0" fill="#0c9cf4" stroke="#012" stroke-width="0.6"/>
<rect x="298.30" y="107.20" width="5.0" height="5.0" fill="#0c9cf4" stroke="#012" stroke-width="0.6"/>
<rect x="307.52" y="105.50" width="5.0" height="5.0" fill="#0c9cf4" stroke="#012" stroke-width="0.6"/>
<rect x="316.75" y="106.50" width="5.0" height="5.0" fill="#0c9cf4" stroke="#012" stroke-width="0.6"/>
<rect x="325.98" y="107.20" width="5.0" height="5.0" fill="#0c9cf4" stroke="#012" stroke-width="0.6"/>
<rect x="335.20" y="109.50" width="5.0" height="5.0" fill="#0c9cf4" stroke="#012" stroke-width="0.6"/>
<rect x="228.19" y="221.20" width="5.0" height="5.0" fill="#f88410" stroke="#321" stroke-width="0.6"/>
<rect x="235.57" y="220.50" width="5.0" height="5.0" fill="#f88410" stroke="#321" stroke-width="0.6"/>
<rect x="242.95" y="222.50" width="5.0" height="5.0" fill="#f88410" stroke="#321" stroke-width="0.6"/>
<rect x="252.18" y="219.20" width="5.0" height="5.0" fill="#f88410" stroke="#321" stroke-width="0.6"/>
<rect x="261.40" y="216.50" width="5.0" height="5.0" fill="#f88410" stroke="#321" stroke-width="0.6"/>
<rect x="270.62" y="210.50" width="5.0" height="5.0" fill="#f88410" stroke="#321" stroke-width="0.6"/>
<rect x="279.85" y="203.50" width="5.0" height="5.0" fill="#f88410" stroke="#321" stroke-width="0.6"/>
<rect x="289.07" y="198.00" width="5.0" height="5.0" fill="#f88410" stroke="#321" stroke-width="0.6"/>
<rect x="298.30" y="194.20" width="5.0" height="5.0" fill="#f88410" stroke="#321" stroke-width="0.6"/>
<rect x="307.52" y="190.00" width="5.0" height="5.0" fill="#f88410" stroke="#321" stroke-width="0.6"/>
<rect x="316.75" y="187.20" width="5.0" height="5.0" fill="#f88410" stroke="#321" stroke-width="0.6"/>
<rect x="325.98" y="183.20" width="5.0" height="5.0" fill="#f88410" stroke="#321" stroke-width="0.6"/>
<rect x="335.20" y="180.50" width="5.0" height="5.0" fill="#f88410" stroke="#321" stroke-width="0.6"/>
<polyline points="249.40,223.90 254.60,221.80 263.80,218.30 272.90,213.00 281.70,207.50 290.90,202.20 300.10,197.80 309.30,193.40 318.50,189.80 327.70,185.60 338.50,181.20" fill="none" stroke="#1a2ae8" stroke-width="1.4" stroke-linejoin="round" stroke-dasharray="7,1.5"/>
<polyline points="376.60,6.60 376.57,7.82 376.89,9.03 377.23,10.25 376.50,11.48 377.05,12.69 377.02,13.91 376.87,15.13 376.60,16.35 376.20,17.58 376.86,18.79 376.24,20.01 376.26,21.23 377.18,22.44 377.41,23.65 377.32,24.87 376.52,26.10 376.84,27.32 376.48,28.54 376.43,29.76 376.83,30.98 377.00,32.19 377.58,33.40 377.65,34.62 376.74,35.85 376.92,37.07 376.83,38.29 377.09,39.50 376.98,40.72 377.04,41.94 376.75,43.17 377.71,44.37 377.28,45.60 377.52,46.81 376.92,48.04 376.88,49.26 377.65,50.46 377.88,51.68 377.70,52.90 377.64,54.12 377.11,55.35 377.57,56.56 377.18,57.79 377.50,59.00 377.78,60.23 377.55,61.48 378.00,62.71 377.49,63.97 377.68,65.20 377.31,66.45 377.24,67.70 377.80,68.92 378.38,70.14 377.38,71.42 377.41,72.66 378.01,73.88 378.04,75.12 377.54,76.38 378.40,77.59 378.43,78.83 377.95,80.09 378.01,81.33 378.04,82.57 377.91,83.81 378.33,85.04 378.48,86.28 378.75,87.51 378.80,88.75 378.50,90.00 378.74,91.19 378.74,92.39 378.45,93.62 378.68,94.81 378.89,96.00 379.12,97.19 378.91,98.41 379.28,99.59 378.86,100.82 379.13,102.01 379.15,103.22 379.61,104.39 379.52,105.60 379.36,106.82 379.15,108.04 379.75,109.20 380.07,110.39 379.71,111.62 380.48,112.77 380.30,113.99 380.74,115.16 380.20,116.40 380.63,117.58 380.55,118.79 380.50,120.00 380.28,121.23 380.58,122.42 381.41,123.54 381.05,124.79 381.69,125.94 380.83,127.24 381.34,128.40 381.04,129.64 381.86,130.77 381.31,132.04 382.25,133.16 381.50,134.44 382.19,135.59 382.69,136.75 381.80,138.05 382.02,139.24 382.91,140.36 382.57,141.61 382.81,142.80 383.33,143.96 383.11,145.19 382.58,146.46 383.40,147.59 383.07,148.83 383.50,150.00 383.44,151.31 383.68,152.56 384.12,153.78 384.03,155.09 384.94,156.21 385.03,157.49 385.31,158.74 385.50,160.00 386.36,161.16 386.31,162.60 386.40,163.99 387.01,165.23 387.87,166.39 387.90,167.80 388.47,169.04 388.46,170.40 389.18,171.60 389.34,172.93 388.98,174.36 389.99,175.50 389.80,176.90 390.54,178.10 390.77,179.41 390.64,180.80 391.50,181.98 391.01,183.45 391.44,184.72 391.80,186.00 391.81,187.39 392.11,188.71 392.49,190.01 393.05,191.27 393.61,192.53 393.70,193.90 393.77,195.22 394.49,196.44 394.58,197.75 394.21,199.13 394.51,200.42 395.24,201.64 395.00,203.00 395.44,204.19 395.64,205.46 396.44,206.54 396.33,207.90 397.28,208.94 397.63,210.16 397.72,211.46 398.00,212.70 399.16,213.36 400.00,214.40 401.21,214.86 402.52,214.70 403.79,214.75 405.00,215.20 406.31,215.38 407.56,215.20 408.80,214.92 410.00,214.40 411.31,214.12 412.54,214.48 413.82,214.45 415.00,215.10 416.50,215.39 418.00,215.10 418.97,214.27 420.00,213.50 421.26,212.22 423.00,211.80 424.28,212.25 425.47,211.14 426.72,211.03 428.00,211.50 429.40,211.53 430.48,210.60 431.89,210.63 433.00,209.80 434.42,209.64 435.72,208.85 437.20,209.00 438.66,209.07 440.00,208.50 441.21,208.05 442.52,208.21 443.74,207.79 445.00,207.66 446.24,207.35 447.52,207.37 448.75,207.00 450.00,206.80 451.25,206.78 452.50,206.58 453.75,206.91 455.00,206.64 456.25,206.85 457.50,206.55 458.75,206.60 460.00,206.86 461.25,206.69 462.50,206.85 463.75,206.90 465.00,206.73 466.25,206.82 467.50,206.74 468.75,206.57 470.00,206.97 471.25,206.82 472.50,206.98 473.75,206.87 475.00,206.80 476.25,206.95 477.51,206.78 478.75,207.12 480.00,207.11 481.26,207.11 482.51,207.12 483.76,207.24 485.01,207.27 486.24,207.65 487.50,207.61 488.76,207.55 490.00,207.85 491.24,208.09 492.49,208.20 493.76,207.86 495.00,208.22 496.25,208.30 497.50,208.32 498.75,208.35 500.00,208.50 501.20,208.62 502.40,208.69 503.60,208.84 504.80,208.87 505.97,209.26 507.16,209.47 508.35,209.66 509.58,209.49 510.78,209.56 511.98,209.70 513.19,209.72 514.35,210.17 515.57,210.04 516.75,210.35 517.93,210.66 519.13,210.71 520.33,210.81 521.52,211.01 522.73,211.07 523.91,211.30 525.12,211.33 526.34,211.27 527.54,211.33 528.69,211.89 529.93,211.61 531.11,211.95 532.28,212.25 533.50,212.20" fill="none" stroke="#1a1ae8" stroke-width="1.45" stroke-linejoin="round" />
<polyline points="378.00,88.00 378.69,89.17 378.69,90.40 378.46,91.66 378.22,92.91 378.99,94.07 379.13,95.29 379.10,96.53 378.58,97.81 379.42,98.96 378.82,100.25 379.03,101.46 379.77,102.63 379.40,103.89 379.62,105.11 379.77,106.32 379.18,107.61 380.38,108.73 380.00,110.00 380.70,111.19 379.72,112.55 380.49,113.74 380.86,114.96 380.83,116.23 380.91,117.48 380.33,118.80 381.35,119.97 381.46,121.22 381.15,122.51 381.32,123.76 380.96,125.05 381.22,126.29 381.92,127.48 382.23,128.71 382.00,130.00 381.68,131.28 381.58,132.54 382.81,133.71 382.05,135.02 381.98,136.28 382.32,137.51 382.92,138.73 382.31,140.02 382.47,141.27 383.20,142.48 382.75,143.76 383.00,145.00 383.53,146.35 383.94,147.72 383.79,149.17 384.00,150.57 384.00,152.00 384.49,153.10 384.58,154.34 384.73,155.55 384.96,156.74 385.31,157.89 385.67,159.04 386.60,160.00 386.65,161.40 387.58,162.53 388.11,163.79 387.98,165.24 388.50,166.50 388.77,167.81 388.95,169.15 389.95,170.28 390.16,171.61 389.63,173.12 390.33,174.33 390.55,175.66 391.10,176.90 391.94,178.07 391.96,179.47 391.74,180.94 392.41,182.15 392.39,183.56 393.68,184.60 393.70,186.00 394.18,187.30 394.22,188.75 395.06,189.93 395.10,191.38 395.80,192.61 396.30,193.90 397.03,195.16 397.34,196.50 396.58,198.07 397.88,199.21 398.08,200.57 398.00,202.00 398.84,203.24 399.10,204.78 400.00,206.00 401.25,206.42 402.50,205.97 403.75,206.00 405.00,206.00 406.30,206.14 407.46,205.34 408.73,205.25 410.00,205.20 411.23,205.53 412.47,205.76 413.84,205.25 415.00,206.00 416.62,205.95 418.00,206.80 418.66,205.28 420.00,204.30 421.43,204.96 423.00,205.10 424.41,205.27 425.82,205.55 427.21,205.24 428.59,204.57 430.00,204.80 431.26,205.09 432.51,205.32 433.75,204.52 434.99,204.09 436.25,204.49 437.49,204.35 438.74,204.19 439.99,204.32 441.25,204.33 442.50,204.67 443.74,204.23 445.00,204.48 446.25,204.25 447.50,204.21 448.75,204.49 450.00,204.30 451.26,204.28 452.51,204.31 453.75,204.53 454.99,204.74 456.25,204.74 457.49,204.99 458.75,204.85 460.00,204.99 461.24,205.17 462.50,205.13 463.74,205.34 465.00,205.30 466.26,205.22 467.51,205.30 468.74,205.72 469.99,205.78 471.23,205.97 472.49,205.92 473.75,205.95 475.00,206.00 476.27,205.95 477.48,206.41 478.77,206.16 480.00,206.42 481.27,206.40 482.51,206.63 483.76,206.71 485.00,206.88 486.24,207.14 487.50,207.17 488.76,207.14 489.99,207.52 491.24,207.61 492.49,207.77 493.77,207.49 494.99,207.90 496.23,208.15 497.51,207.95 498.76,208.04 500.00,208.30 501.18,208.59 502.40,208.50 503.59,208.65 504.77,208.99 505.99,208.90 507.20,208.94 508.39,209.08 509.58,209.28 510.76,209.59 511.97,209.56 513.15,209.89 514.38,209.67 515.57,209.89 516.74,210.21 517.95,210.27 519.14,210.41 520.32,210.76 521.55,210.57 522.75,210.65 523.95,210.71 525.13,211.07 526.33,211.11 527.52,211.33 528.74,211.23 529.94,211.36 531.11,211.68 532.29,212.00 533.50,212.00" fill="none" stroke="#18d8f0" stroke-width="1.45" stroke-linejoin="round" />
<polyline points="377.50,100.00 378.08,101.22 377.99,102.48 377.96,103.74 377.32,105.03 377.88,106.25 377.69,107.52 378.50,108.72 378.09,110.00 377.76,111.27 378.22,112.50 377.79,113.78 378.40,115.00 378.15,116.32 378.95,117.48 379.59,118.66 378.90,120.05 379.84,121.18 380.18,122.41 379.53,123.79 380.00,125.00 379.78,126.27 379.98,127.48 380.03,128.72 381.11,129.79 381.44,130.97 381.59,132.19 380.76,133.56 381.98,134.61 382.11,135.83 382.46,137.02 382.62,138.23 382.82,139.44 382.64,140.71 383.05,141.88 383.07,143.12 382.52,144.45 383.62,145.52 383.04,146.85 383.60,148.00 383.81,149.31 384.48,150.43 384.96,151.63 385.22,152.92 386.00,154.00 386.55,155.25 387.57,156.25 388.10,157.50 388.83,158.66 389.20,160.00 389.71,161.10 389.45,162.47 390.48,163.38 391.29,164.38 391.23,165.68 391.25,166.95 392.06,167.94 392.40,169.10 392.69,170.49 393.90,171.52 394.45,172.80 394.30,174.37 395.00,175.60 395.86,176.65 395.90,177.94 396.13,179.16 396.69,180.30 397.20,181.45 397.00,182.80 397.96,183.77 397.29,185.30 397.99,186.35 398.09,187.62 399.00,188.60 399.21,189.88 398.86,191.24 399.17,192.51 399.66,193.74 400.00,195.00 400.64,196.18 401.32,197.34 402.00,198.50 403.66,199.01 405.00,200.10 406.28,200.18 407.45,200.81 408.81,200.42 410.00,201.00 412.00,199.70 413.33,200.74 415.00,201.00 416.49,201.81 418.00,202.60 419.10,201.38 420.00,200.00 421.12,200.81 422.44,201.07 423.90,200.94 425.00,201.80 426.24,201.45 427.48,201.10 428.73,201.08 430.02,202.14 431.25,201.66 432.52,202.06 433.76,201.79 435.00,201.40 436.26,201.24 437.47,202.08 438.73,202.08 440.00,201.61 441.26,201.48 442.50,201.66 443.76,201.64 445.00,201.80 446.26,201.72 447.50,202.09 448.74,202.28 450.00,202.10 451.26,202.07 452.49,202.46 453.75,202.47 455.00,202.53 456.23,202.85 457.51,202.70 458.74,203.03 460.02,202.75 461.23,203.32 462.51,203.04 463.77,203.06 464.98,203.61 466.24,203.64 467.49,203.73 468.74,203.88 470.01,203.80 471.27,203.78 472.51,203.99 473.73,204.42 475.00,204.30 476.16,204.71 477.40,204.50 478.58,204.77 479.77,204.94 480.92,205.33 482.18,205.06 483.31,205.63 484.54,205.51 485.71,205.82 486.93,205.78 488.12,205.93 489.26,206.49 490.48,206.47 491.63,206.87 492.83,206.98 494.03,207.09 495.27,206.92 496.42,207.34 497.58,207.71 498.81,207.63 500.00,207.80 501.22,207.72 502.41,207.91 503.56,208.45 504.76,208.58 506.00,208.35 507.19,208.52 508.36,208.86 509.57,208.89 510.79,208.87 511.94,209.40 513.15,209.35 514.36,209.36 515.58,209.33 516.75,209.71 517.93,209.96 519.16,209.81 520.36,209.90 521.52,210.35 522.71,210.59 523.94,210.45 525.13,210.64 526.31,210.85 527.52,210.93 528.74,210.87 529.92,211.08 531.12,211.18 532.32,211.31 533.50,211.60" fill="none" stroke="#8a1a9a" stroke-width="1.45" stroke-linejoin="round" />
<polyline points="373.20,137.80 373.56,136.17 373.50,134.50 373.63,135.90 374.50,137.00 373.59,138.23 375.24,139.38 374.15,140.61 373.47,141.83 373.45,143.04 375.65,144.17 374.30,145.41 374.43,146.61 374.81,147.80 373.46,149.04 374.81,150.20 375.09,151.40 373.63,152.64 375.00,153.80 375.48,152.62 374.55,151.36 374.64,150.17 375.27,149.00 374.02,147.72 375.75,146.62 376.21,145.44 375.35,144.19 376.68,143.06 377.00,141.88 375.95,140.61 376.40,139.43 374.78,138.13 376.00,137.00 377.75,137.87 375.65,140.17 377.50,141.00 378.61,142.11 379.31,143.36 379.00,145.00 378.59,146.80 379.64,147.85 381.95,148.23 381.60,150.00 382.57,151.16 383.26,152.41 383.00,154.00 384.19,154.90 385.49,155.76 384.67,157.63 385.85,158.54 385.90,160.00 386.99,160.83 388.32,161.46 389.33,162.34 390.36,163.23 389.25,165.85 390.38,166.64 391.80,167.20 392.46,168.27 394.26,168.37 395.01,169.37 395.00,171.00 396.69,170.69 397.49,171.86 398.30,173.00 399.00,171.00 400.44,172.07 399.91,173.33 400.25,174.51 400.40,175.71 399.60,177.00 399.54,178.41 400.39,179.55 400.76,180.83 401.23,182.09 401.50,183.40 402.10,184.69 402.55,186.05 403.51,187.16 404.00,188.50 405.35,188.79 406.41,189.69 407.64,190.21 408.70,191.10 410.00,191.50 411.35,191.64 412.40,192.66 413.88,192.45 414.99,193.28 416.26,193.64 417.55,193.99 418.65,194.86 420.00,195.00 421.21,195.48 422.57,195.39 423.75,195.97 424.98,196.39 426.34,196.26 427.58,196.63 428.73,197.35 430.00,197.60 431.23,197.90 432.50,197.80 433.76,197.89 435.00,198.07 436.27,197.99 437.47,198.60 438.72,198.78 440.00,198.52 441.29,198.27 442.51,198.68 443.73,199.12 445.00,199.00 446.27,199.03 447.54,199.02 448.78,199.25 449.98,199.83 451.24,199.93 452.52,199.83 453.74,200.26 454.97,200.54 456.20,200.87 457.46,200.93 458.76,200.78 460.00,201.00 461.20,201.49 462.43,201.83 463.69,202.04 464.96,202.20 466.24,202.32 467.50,202.51 468.70,203.02 469.98,203.10 471.22,203.42 472.54,203.29 473.81,203.43 475.00,204.00 476.22,204.00 477.37,204.43 478.56,204.60 479.80,204.49 480.99,204.66 482.09,205.44 483.38,204.93 484.47,205.78 485.68,205.84 486.90,205.87 488.04,206.38 489.26,206.31 490.54,205.96 491.61,206.88 492.87,206.65 494.00,207.22 495.20,207.32 496.47,206.97 497.67,207.07 498.87,207.24 500.00,207.80 501.18,208.14 502.37,208.26 503.61,207.93 504.82,207.95 505.99,208.27 507.16,208.72 508.36,208.79 509.54,209.01 510.73,209.20 511.94,209.15 513.14,209.32 514.39,208.79 515.59,208.89 516.72,209.69 517.94,209.61 519.16,209.49 520.37,209.45 521.55,209.72 522.74,209.84 523.93,210.08 525.13,210.16 526.34,210.08 527.55,210.10 528.74,210.31 529.94,210.36 531.14,210.45 532.31,210.82 533.50,211.00" fill="none" stroke="#111" stroke-width="1.45" stroke-linejoin="round" />
<polyline points="373.00,170.00 373.58,168.78 374.00,167.50 374.53,168.88 375.50,170.00 377.00,168.50 378.00,169.50 378.32,171.15 379.21,172.15 380.24,172.99 382.00,173.00 383.42,172.30 385.00,172.40 385.78,174.49 388.00,174.30 390.00,173.00 391.13,173.48 392.32,173.85 393.00,175.00 394.71,174.28 395.66,175.90 397.00,176.30 399.00,177.00 400.46,177.87 400.00,179.50 400.67,180.55 400.92,181.79 401.30,182.96 402.00,184.00 402.86,185.14 404.00,186.00 405.01,186.80 405.78,187.79 406.41,188.88 407.00,190.00 408.49,190.54 410.00,191.00 411.17,191.66 412.43,192.03 413.64,192.53 415.00,192.60 416.47,193.46 418.00,194.20 420.00,193.40 420.57,194.49 421.47,195.38 422.00,196.50 423.52,196.60 425.00,197.00 426.22,196.62 427.50,196.73 428.76,196.64 430.00,196.40 431.25,196.53 432.51,196.46 433.75,196.56 435.00,196.70 436.28,196.66 437.47,197.28 438.74,197.25 439.97,197.55 441.22,197.76 442.52,197.50 443.79,197.53 445.00,198.00 446.27,197.98 447.46,198.62 448.72,198.68 450.01,198.52 451.22,198.97 452.52,198.77 453.72,199.34 455.00,199.20 456.31,199.10 457.47,199.84 458.68,200.25 460.01,200.04 461.26,200.30 462.55,200.26 463.78,200.60 465.00,201.00 466.30,201.07 467.54,201.39 468.82,201.49 470.03,201.94 471.32,202.07 472.50,202.67 473.77,202.85 475.00,203.20 476.22,203.17 477.33,203.91 478.59,203.59 479.76,203.95 480.90,204.42 482.11,204.49 483.28,204.83 484.51,204.73 485.67,205.12 486.96,204.67 488.07,205.38 489.31,205.24 490.50,205.41 491.63,205.95 492.83,206.11 494.07,205.97 495.25,206.17 496.46,206.28 497.57,206.98 498.80,206.91 500.00,207.00 501.22,206.94 502.39,207.28 503.63,207.03 504.81,207.33 505.98,207.64 507.14,208.15 508.34,208.18 509.57,208.07 510.75,208.37 511.99,208.09 513.14,208.57 514.31,208.94 515.58,208.40 516.71,209.14 517.90,209.31 519.15,208.95 520.31,209.44 521.49,209.70 522.76,209.16 523.93,209.54 525.12,209.77 526.30,210.06 527.54,209.77 528.69,210.29 529.89,210.38 531.08,210.63 532.28,210.66 533.50,210.60" fill="none" stroke="#e8141c" stroke-width="1.45" stroke-linejoin="round" />
<polygon points="377.3,61.6 373.7,66.3 374.2,78 374.5,90 378.2,90 378,75 377.9,66.3" fill="#18d8f0"/>
<polygon points="373,80.6 372.5,88 373.5,100 374.9,109.4 376.7,109.4 376.8,100 377.5,88 376,80.6" fill="#8a1a9a"/>
<line x1="375.10" y1="108.00" x2="375.10" y2="124.80" stroke="#8a1a9a" stroke-width="1.3" />
<line x1="377.60" y1="59.00" x2="378.60" y2="100.00" stroke="#1a1ae8" stroke-width="1.3" />
<line x1="389.50" y1="141.00" x2="389.50" y2="241.50" stroke="#222" stroke-width="1.0" stroke-dasharray="3,2.6"/>
<line x1="492.00" y1="197.00" x2="492.00" y2="241.50" stroke="#777" stroke-width="1.0" stroke-dasharray="3,2.6"/>
<rect x="369.00" y="6.50" width="164.00" height="235.00" fill="none" stroke="#000" stroke-width="1.0"/>
<line x1="379.00" y1="241.50" x2="379.00" y2="239.00" stroke="#000" stroke-width="1.0" />
<line x1="379.00" y1="6.50" x2="379.00" y2="9.00" stroke="#000" stroke-width="1.0" />
<line x1="390.00" y1="241.50" x2="390.00" y2="239.00" stroke="#000" stroke-width="1.0" />
<line x1="390.00" y1="6.50" x2="390.00" y2="9.00" stroke="#000" stroke-width="1.0" />
<line x1="400.00" y1="241.50" x2="400.00" y2="239.00" stroke="#000" stroke-width="1.0" />
<line x1="400.00" y1="6.50" x2="400.00" y2="9.00" stroke="#000" stroke-width="1.0" />
<line x1="420.00" y1="241.50" x2="420.00" y2="239.00" stroke="#000" stroke-width="1.0" />
<line x1="420.00" y1="6.50" x2="420.00" y2="9.00" stroke="#000" stroke-width="1.0" />
<line x1="430.00" y1="241.50" x2="430.00" y2="239.00" stroke="#000" stroke-width="1.0" />
<line x1="430.00" y1="6.50" x2="430.00" y2="9.00" stroke="#000" stroke-width="1.0" />
<line x1="441.00" y1="241.50" x2="441.00" y2="239.00" stroke="#000" stroke-width="1.0" />
<line x1="441.00" y1="6.50" x2="441.00" y2="9.00" stroke="#000" stroke-width="1.0" />
<line x1="461.00" y1="241.50" x2="461.00" y2="239.00" stroke="#000" stroke-width="1.0" />
<line x1="461.00" y1="6.50" x2="461.00" y2="9.00" stroke="#000" stroke-width="1.0" />
<line x1="472.00" y1="241.50" x2="472.00" y2="239.00" stroke="#000" stroke-width="1.0" />
<line x1="472.00" y1="6.50" x2="472.00" y2="9.00" stroke="#000" stroke-width="1.0" />
<line x1="482.00" y1="241.50" x2="482.00" y2="239.00" stroke="#000" stroke-width="1.0" />
<line x1="482.00" y1="6.50" x2="482.00" y2="9.00" stroke="#000" stroke-width="1.0" />
<line x1="502.00" y1="241.50" x2="502.00" y2="239.00" stroke="#000" stroke-width="1.0" />
<line x1="502.00" y1="6.50" x2="502.00" y2="9.00" stroke="#000" stroke-width="1.0" />
<line x1="512.00" y1="241.50" x2="512.00" y2="239.00" stroke="#000" stroke-width="1.0" />
<line x1="512.00" y1="6.50" x2="512.00" y2="9.00" stroke="#000" stroke-width="1.0" />
<line x1="523.00" y1="241.50" x2="523.00" y2="239.00" stroke="#000" stroke-width="1.0" />
<line x1="523.00" y1="6.50" x2="523.00" y2="9.00" stroke="#000" stroke-width="1.0" />
<line x1="410.00" y1="241.50" x2="410.00" y2="237.00" stroke="#000" stroke-width="1.0" />
<line x1="410.00" y1="6.50" x2="410.00" y2="11.00" stroke="#000" stroke-width="1.0" />
<line x1="451.00" y1="241.50" x2="451.00" y2="237.00" stroke="#000" stroke-width="1.0" />
<line x1="451.00" y1="6.50" x2="451.00" y2="11.00" stroke="#000" stroke-width="1.0" />
<line x1="492.00" y1="241.50" x2="492.00" y2="237.00" stroke="#000" stroke-width="1.0" />
<line x1="492.00" y1="6.50" x2="492.00" y2="11.00" stroke="#000" stroke-width="1.0" />
<line x1="369.00" y1="221.50" x2="371.50" y2="221.50" stroke="#000" stroke-width="1.0" />
<line x1="533.00" y1="221.50" x2="530.50" y2="221.50" stroke="#000" stroke-width="1.0" />
<line x1="369.00" y1="182.50" x2="371.50" y2="182.50" stroke="#000" stroke-width="1.0" />
<line x1="533.00" y1="182.50" x2="530.50" y2="182.50" stroke="#000" stroke-width="1.0" />
<line x1="369.00" y1="143.50" x2="371.50" y2="143.50" stroke="#000" stroke-width="1.0" />
<line x1="533.00" y1="143.50" x2="530.50" y2="143.50" stroke="#000" stroke-width="1.0" />
<line x1="369.00" y1="104.50" x2="371.50" y2="104.50" stroke="#000" stroke-width="1.0" />
<line x1="533.00" y1="104.50" x2="530.50" y2="104.50" stroke="#000" stroke-width="1.0" />
<line x1="369.00" y1="65.50" x2="371.50" y2="65.50" stroke="#000" stroke-width="1.0" />
<line x1="533.00" y1="65.50" x2="530.50" y2="65.50" stroke="#000" stroke-width="1.0" />
<line x1="369.00" y1="26.50" x2="371.50" y2="26.50" stroke="#000" stroke-width="1.0" />
<line x1="533.00" y1="26.50" x2="530.50" y2="26.50" stroke="#000" stroke-width="1.0" />
<line x1="369.00" y1="202.50" x2="373.50" y2="202.50" stroke="#000" stroke-width="1.0" />
<line x1="533.00" y1="202.50" x2="528.50" y2="202.50" stroke="#000" stroke-width="1.0" />
<line x1="369.00" y1="163.50" x2="373.50" y2="163.50" stroke="#000" stroke-width="1.0" />
<line x1="533.00" y1="163.50" x2="528.50" y2="163.50" stroke="#000" stroke-width="1.0" />
<line x1="369.00" y1="124.50" x2="373.50" y2="124.50" stroke="#000" stroke-width="1.0" />
<line x1="533.00" y1="124.50" x2="528.50" y2="124.50" stroke="#000" stroke-width="1.0" />
<line x1="369.00" y1="84.50" x2="373.50" y2="84.50" stroke="#000" stroke-width="1.0" />
<line x1="533.00" y1="84.50" x2="528.50" y2="84.50" stroke="#000" stroke-width="1.0" />
<line x1="369.00" y1="45.50" x2="373.50" y2="45.50" stroke="#000" stroke-width="1.0" />
<line x1="533.00" y1="45.50" x2="528.50" y2="45.50" stroke="#000" stroke-width="1.0" />
<text x="363.50" y="244.90" font-size="10.0" text-anchor="end" >0</text>
<text x="363.50" y="205.73" font-size="10.0" text-anchor="end" >1</text>
<text x="363.50" y="166.57" font-size="10.0" text-anchor="end" >2</text>
<text x="363.50" y="127.40" font-size="10.0" text-anchor="end" >3</text>
<text x="363.50" y="88.23" font-size="10.0" text-anchor="end" >4</text>
<text x="363.50" y="49.07" font-size="10.0" text-anchor="end" >5</text>
<text x="363.50" y="8.60" font-size="10.0" text-anchor="end" >6</text>
<text x="369.00" y="254.00" font-size="10.0" text-anchor="middle" >0</text>
<text x="410.00" y="254.00" font-size="10.0" text-anchor="middle" >500</text>
<text x="451.00" y="254.00" font-size="10.0" text-anchor="middle" >1000</text>
<text x="492.00" y="254.00" font-size="10.0" text-anchor="middle" >1500</text>
<text x="533.00" y="254.00" font-size="10.0" text-anchor="middle" >2000</text>
<text x="459.80" y="264.40" font-size="9.4" text-anchor="middle" >Wave number (cm<tspan dy="-3.5" font-size="6">-1</tspan><tspan dy="3.5">)</tspan></text>
<text transform="translate(352.5,131.6) rotate(-90)" text-anchor="middle"><tspan font-size="9">&#963;</tspan><tspan dy="2.5" font-size="5.5">1a</tspan><tspan dy="-2.5" font-size="9"> (&#969;) (10</tspan><tspan dy="-3.5" font-size="5.5">3</tspan><tspan dy="3.5" font-size="9"> &#937;</tspan><tspan dy="-3.5" font-size="5.5">-1</tspan><tspan dy="3.5" font-size="9">cm</tspan><tspan dy="-3.5" font-size="5.5">-1</tspan><tspan dy="3.5" font-size="9">)</tspan></text>
<text x="385.70" y="21.00" font-size="10.2" text-anchor="start" >(e)</text>
<text x="403.40" y="58.00" font-size="10.2" text-anchor="start" >YBa<tspan dy="3" font-size="5.8">2</tspan><tspan dy="-3">Cu</tspan><tspan dy="3" font-size="5.8">3</tspan><tspan dy="-3">O</tspan><tspan dy="3" font-size="5.8">6.6</tspan></text>
<text x="403.40" y="73.50" font-size="10.2" text-anchor="start" ><tspan font-style="italic">T</tspan><tspan dy="3" font-size="5.8">c</tspan><tspan dy="-3"> = 61 K</tspan></text>
<text x="403.40" y="89.50" font-size="10.2" text-anchor="start" >a-axis</text>
<line x1="473.40" y1="45.80" x2="496.40" y2="45.80" stroke="#4a4af0" stroke-width="1.8" />
<text x="500.00" y="49.80" font-size="10.2" text-anchor="start" >10 K</text>
<line x1="473.40" y1="58.90" x2="496.40" y2="58.90" stroke="#40f0f8" stroke-width="1.8" />
<text x="500.00" y="62.90" font-size="10.2" text-anchor="start" >70 K</text>
<line x1="473.40" y1="71.70" x2="496.40" y2="71.70" stroke="#a050b8" stroke-width="1.8" />
<text x="500.00" y="75.70" font-size="10.2" text-anchor="start" >100 K</text>
<line x1="473.40" y1="85.00" x2="496.40" y2="85.00" stroke="#505050" stroke-width="1.8" />
<text x="500.00" y="89.00" font-size="10.2" text-anchor="start" >180 K</text>
<line x1="473.40" y1="97.70" x2="496.40" y2="97.70" stroke="#f03838" stroke-width="1.8" />
<text x="500.00" y="101.70" font-size="10.2" text-anchor="start" >300 K</text>
<rect x="634.6" y="7.0" width="7.8" height="106.0" fill="#c4c4c4"/>
<line x1="597.24" y1="6.50" x2="597.24" y2="113.50" stroke="#000" stroke-width="1.0" />
<rect x="574.00" y="6.50" width="118.00" height="107.00" fill="none" stroke="#000" stroke-width="1.0"/>
<line x1="582.00" y1="113.50" x2="582.00" y2="111.00" stroke="#000" stroke-width="1.0" />
<line x1="582.00" y1="6.50" x2="582.00" y2="9.00" stroke="#000" stroke-width="1.0" />
<line x1="589.00" y1="113.50" x2="589.00" y2="111.00" stroke="#000" stroke-width="1.0" />
<line x1="589.00" y1="6.50" x2="589.00" y2="9.00" stroke="#000" stroke-width="1.0" />
<line x1="597.00" y1="113.50" x2="597.00" y2="111.00" stroke="#000" stroke-width="1.0" />
<line x1="597.00" y1="6.50" x2="597.00" y2="9.00" stroke="#000" stroke-width="1.0" />
<line x1="604.00" y1="113.50" x2="604.00" y2="111.00" stroke="#000" stroke-width="1.0" />
<line x1="604.00" y1="6.50" x2="604.00" y2="9.00" stroke="#000" stroke-width="1.0" />
<line x1="620.00" y1="113.50" x2="620.00" y2="111.00" stroke="#000" stroke-width="1.0" />
<line x1="620.00" y1="6.50" x2="620.00" y2="9.00" stroke="#000" stroke-width="1.0" />
<line x1="627.00" y1="113.50" x2="627.00" y2="111.00" stroke="#000" stroke-width="1.0" />
<line x1="627.00" y1="6.50" x2="627.00" y2="9.00" stroke="#000" stroke-width="1.0" />
<line x1="635.00" y1="113.50" x2="635.00" y2="111.00" stroke="#000" stroke-width="1.0" />
<line x1="635.00" y1="6.50" x2="635.00" y2="9.00" stroke="#000" stroke-width="1.0" />
<line x1="643.00" y1="113.50" x2="643.00" y2="111.00" stroke="#000" stroke-width="1.0" />
<line x1="643.00" y1="6.50" x2="643.00" y2="9.00" stroke="#000" stroke-width="1.0" />
<line x1="658.00" y1="113.50" x2="658.00" y2="111.00" stroke="#000" stroke-width="1.0" />
<line x1="658.00" y1="6.50" x2="658.00" y2="9.00" stroke="#000" stroke-width="1.0" />
<line x1="665.00" y1="113.50" x2="665.00" y2="111.00" stroke="#000" stroke-width="1.0" />
<line x1="665.00" y1="6.50" x2="665.00" y2="9.00" stroke="#000" stroke-width="1.0" />
<line x1="673.00" y1="113.50" x2="673.00" y2="111.00" stroke="#000" stroke-width="1.0" />
<line x1="673.00" y1="6.50" x2="673.00" y2="9.00" stroke="#000" stroke-width="1.0" />
<line x1="681.00" y1="113.50" x2="681.00" y2="111.00" stroke="#000" stroke-width="1.0" />
<line x1="681.00" y1="6.50" x2="681.00" y2="9.00" stroke="#000" stroke-width="1.0" />
<line x1="612.00" y1="113.50" x2="612.00" y2="109.00" stroke="#000" stroke-width="1.0" />
<line x1="612.00" y1="6.50" x2="612.00" y2="11.00" stroke="#000" stroke-width="1.0" />
<line x1="650.00" y1="113.50" x2="650.00" y2="109.00" stroke="#000" stroke-width="1.0" />
<line x1="650.00" y1="6.50" x2="650.00" y2="11.00" stroke="#000" stroke-width="1.0" />
<line x1="688.00" y1="113.50" x2="688.00" y2="109.00" stroke="#000" stroke-width="1.0" />
<line x1="688.00" y1="6.50" x2="688.00" y2="11.00" stroke="#000" stroke-width="1.0" />
<line x1="574.00" y1="102.50" x2="576.50" y2="102.50" stroke="#000" stroke-width="1.0" />
<line x1="692.00" y1="102.50" x2="689.50" y2="102.50" stroke="#000" stroke-width="1.0" />
<line x1="574.00" y1="81.50" x2="576.50" y2="81.50" stroke="#000" stroke-width="1.0" />
<line x1="692.00" y1="81.50" x2="689.50" y2="81.50" stroke="#000" stroke-width="1.0" />
<line x1="574.00" y1="60.50" x2="576.50" y2="60.50" stroke="#000" stroke-width="1.0" />
<line x1="692.00" y1="60.50" x2="689.50" y2="60.50" stroke="#000" stroke-width="1.0" />
<line x1="574.00" y1="38.50" x2="576.50" y2="38.50" stroke="#000" stroke-width="1.0" />
<line x1="692.00" y1="38.50" x2="689.50" y2="38.50" stroke="#000" stroke-width="1.0" />
<line x1="574.00" y1="17.50" x2="576.50" y2="17.50" stroke="#000" stroke-width="1.0" />
<line x1="692.00" y1="17.50" x2="689.50" y2="17.50" stroke="#000" stroke-width="1.0" />
<line x1="574.00" y1="92.50" x2="576.50" y2="92.50" stroke="#000" stroke-width="1.0" />
<line x1="692.00" y1="92.50" x2="689.50" y2="92.50" stroke="#000" stroke-width="1.0" />
<line x1="574.00" y1="49.50" x2="576.50" y2="49.50" stroke="#000" stroke-width="1.0" />
<line x1="692.00" y1="49.50" x2="689.50" y2="49.50" stroke="#000" stroke-width="1.0" />
<line x1="574.00" y1="70.50" x2="578.50" y2="70.50" stroke="#000" stroke-width="1.0" />
<line x1="692.00" y1="70.50" x2="687.50" y2="70.50" stroke="#000" stroke-width="1.0" />
<line x1="574.00" y1="28.50" x2="578.50" y2="28.50" stroke="#000" stroke-width="1.0" />
<line x1="692.00" y1="28.50" x2="687.50" y2="28.50" stroke="#000" stroke-width="1.0" />
<text x="569.50" y="116.90" font-size="10.0" text-anchor="end" >10</text>
<text x="569.50" y="74.30" font-size="10.0" text-anchor="end" >12</text>
<text x="569.50" y="31.70" font-size="10.0" text-anchor="end" >14</text>
<text x="574.00" y="126.30" font-size="10.0" text-anchor="middle" >0</text>
<text x="612.10" y="126.30" font-size="10.0" text-anchor="middle" >100</text>
<text x="650.20" y="126.30" font-size="10.0" text-anchor="middle" >200</text>
<text x="688.30" y="126.30" font-size="10.0" text-anchor="middle" >300</text>
<circle cx="577.30" cy="99.10" r="3.1" fill="#f878f8" stroke="#302030" stroke-width="0.6"/>
<circle cx="585.10" cy="97.80" r="3.1" fill="#f878f8" stroke="#302030" stroke-width="0.6"/>
<circle cx="589.20" cy="94.50" r="3.1" fill="#f878f8" stroke="#302030" stroke-width="0.6"/>
<circle cx="593.00" cy="84.60" r="3.1" fill="#f878f8" stroke="#302030" stroke-width="0.6"/>
<circle cx="596.70" cy="75.70" r="3.1" fill="#f878f8" stroke="#302030" stroke-width="0.6"/>
<circle cx="600.30" cy="70.00" r="3.1" fill="#f878f8" stroke="#302030" stroke-width="0.6"/>
<circle cx="604.50" cy="64.40" r="3.1" fill="#f878f8" stroke="#302030" stroke-width="0.6"/>
<circle cx="612.10" cy="50.70" r="3.1" fill="#f878f8" stroke="#302030" stroke-width="0.6"/>
<circle cx="619.70" cy="43.10" r="3.1" fill="#f878f8" stroke="#302030" stroke-width="0.6"/>
<circle cx="627.10" cy="33.50" r="3.1" fill="#f878f8" stroke="#302030" stroke-width="0.6"/>
<circle cx="634.60" cy="28.00" r="3.1" fill="#f878f8" stroke="#302030" stroke-width="0.6"/>
<circle cx="642.00" cy="18.60" r="3.1" fill="#f878f8" stroke="#302030" stroke-width="0.6"/>
<circle cx="649.70" cy="19.00" r="3.1" fill="#f878f8" stroke="#302030" stroke-width="0.6"/>
<circle cx="657.00" cy="14.00" r="3.1" fill="#f878f8" stroke="#302030" stroke-width="0.6"/>
<circle cx="665.10" cy="13.00" r="3.1" fill="#f878f8" stroke="#302030" stroke-width="0.6"/>
<circle cx="672.50" cy="14.00" r="3.1" fill="#f878f8" stroke="#302030" stroke-width="0.6"/>
<circle cx="680.10" cy="16.00" r="3.1" fill="#f878f8" stroke="#302030" stroke-width="0.6"/>
<circle cx="688.20" cy="21.40" r="3.1" fill="#f878f8" stroke="#302030" stroke-width="0.6"/>
<text x="581.60" y="21.00" font-size="10.2" text-anchor="start" >(f)</text>
<text x="598.60" y="38.30" font-size="10" text-anchor="start" ><tspan font-style="italic">T</tspan><tspan dx="-1" dy="4" font-size="6">c</tspan></text>
<text x="644.00" y="75.70" font-size="10" text-anchor="start" ><tspan font-style="italic">T</tspan><tspan dx="-0.4" dy="-4.6" font-size="6">ons</tspan></text>
<text transform="translate(550,63.3) rotate(-90)" text-anchor="middle"><tspan font-size="9">SW</tspan><tspan dx="2" dy="2.5" font-size="5.8">250</tspan><tspan dx="-9.67" dy="-6.5" font-size="5.8">1500</tspan><tspan dy="4" font-size="9"> (10</tspan><tspan dy="-3.5" font-size="5.5">5</tspan><tspan dy="3.5" font-size="9">&#937;</tspan><tspan dy="-3.5" font-size="5.5">-1</tspan><tspan dy="3.5" font-size="9">cm</tspan><tspan dy="-3.5" font-size="5.5">-2</tspan><tspan dy="3.5" font-size="9">)</tspan></text>
<rect x="574.50" y="134.50" width="117.50" height="107.00" fill="none" stroke="#000" stroke-width="1.0"/>
<line x1="582.00" y1="241.50" x2="582.00" y2="239.00" stroke="#000" stroke-width="1.0" />
<line x1="582.00" y1="134.50" x2="582.00" y2="137.00" stroke="#000" stroke-width="1.0" />
<line x1="590.00" y1="241.50" x2="590.00" y2="239.00" stroke="#000" stroke-width="1.0" />
<line x1="590.00" y1="134.50" x2="590.00" y2="137.00" stroke="#000" stroke-width="1.0" />
<line x1="598.00" y1="241.50" x2="598.00" y2="239.00" stroke="#000" stroke-width="1.0" />
<line x1="598.00" y1="134.50" x2="598.00" y2="137.00" stroke="#000" stroke-width="1.0" />
<line x1="605.00" y1="241.50" x2="605.00" y2="239.00" stroke="#000" stroke-width="1.0" />
<line x1="605.00" y1="134.50" x2="605.00" y2="137.00" stroke="#000" stroke-width="1.0" />
<line x1="621.00" y1="241.50" x2="621.00" y2="239.00" stroke="#000" stroke-width="1.0" />
<line x1="621.00" y1="134.50" x2="621.00" y2="137.00" stroke="#000" stroke-width="1.0" />
<line x1="629.00" y1="241.50" x2="629.00" y2="239.00" stroke="#000" stroke-width="1.0" />
<line x1="629.00" y1="134.50" x2="629.00" y2="137.00" stroke="#000" stroke-width="1.0" />
<line x1="636.00" y1="241.50" x2="636.00" y2="239.00" stroke="#000" stroke-width="1.0" />
<line x1="636.00" y1="134.50" x2="636.00" y2="137.00" stroke="#000" stroke-width="1.0" />
<line x1="644.00" y1="241.50" x2="644.00" y2="239.00" stroke="#000" stroke-width="1.0" />
<line x1="644.00" y1="134.50" x2="644.00" y2="137.00" stroke="#000" stroke-width="1.0" />
<line x1="660.00" y1="241.50" x2="660.00" y2="239.00" stroke="#000" stroke-width="1.0" />
<line x1="660.00" y1="134.50" x2="660.00" y2="137.00" stroke="#000" stroke-width="1.0" />
<line x1="667.00" y1="241.50" x2="667.00" y2="239.00" stroke="#000" stroke-width="1.0" />
<line x1="667.00" y1="134.50" x2="667.00" y2="137.00" stroke="#000" stroke-width="1.0" />
<line x1="675.00" y1="241.50" x2="675.00" y2="239.00" stroke="#000" stroke-width="1.0" />
<line x1="675.00" y1="134.50" x2="675.00" y2="137.00" stroke="#000" stroke-width="1.0" />
<line x1="683.00" y1="241.50" x2="683.00" y2="239.00" stroke="#000" stroke-width="1.0" />
<line x1="683.00" y1="134.50" x2="683.00" y2="137.00" stroke="#000" stroke-width="1.0" />
<line x1="613.00" y1="241.50" x2="613.00" y2="237.00" stroke="#000" stroke-width="1.0" />
<line x1="613.00" y1="134.50" x2="613.00" y2="139.00" stroke="#000" stroke-width="1.0" />
<line x1="652.00" y1="241.50" x2="652.00" y2="237.00" stroke="#000" stroke-width="1.0" />
<line x1="652.00" y1="134.50" x2="652.00" y2="139.00" stroke="#000" stroke-width="1.0" />
<line x1="691.00" y1="241.50" x2="691.00" y2="237.00" stroke="#000" stroke-width="1.0" />
<line x1="691.00" y1="134.50" x2="691.00" y2="139.00" stroke="#000" stroke-width="1.0" />
<line x1="574.50" y1="146.50" x2="577.00" y2="146.50" stroke="#000" stroke-width="1.0" />
<line x1="692.00" y1="146.50" x2="689.50" y2="146.50" stroke="#000" stroke-width="1.0" />
<line x1="574.50" y1="155.50" x2="577.00" y2="155.50" stroke="#000" stroke-width="1.0" />
<line x1="692.00" y1="155.50" x2="689.50" y2="155.50" stroke="#000" stroke-width="1.0" />
<line x1="574.50" y1="163.50" x2="577.00" y2="163.50" stroke="#000" stroke-width="1.0" />
<line x1="692.00" y1="163.50" x2="689.50" y2="163.50" stroke="#000" stroke-width="1.0" />
<line x1="574.50" y1="172.50" x2="577.00" y2="172.50" stroke="#000" stroke-width="1.0" />
<line x1="692.00" y1="172.50" x2="689.50" y2="172.50" stroke="#000" stroke-width="1.0" />
<line x1="574.50" y1="189.50" x2="577.00" y2="189.50" stroke="#000" stroke-width="1.0" />
<line x1="692.00" y1="189.50" x2="689.50" y2="189.50" stroke="#000" stroke-width="1.0" />
<line x1="574.50" y1="198.50" x2="577.00" y2="198.50" stroke="#000" stroke-width="1.0" />
<line x1="692.00" y1="198.50" x2="689.50" y2="198.50" stroke="#000" stroke-width="1.0" />
<line x1="574.50" y1="206.50" x2="577.00" y2="206.50" stroke="#000" stroke-width="1.0" />
<line x1="692.00" y1="206.50" x2="689.50" y2="206.50" stroke="#000" stroke-width="1.0" />
<line x1="574.50" y1="215.50" x2="577.00" y2="215.50" stroke="#000" stroke-width="1.0" />
<line x1="692.00" y1="215.50" x2="689.50" y2="215.50" stroke="#000" stroke-width="1.0" />
<line x1="574.50" y1="232.50" x2="577.00" y2="232.50" stroke="#000" stroke-width="1.0" />
<line x1="692.00" y1="232.50" x2="689.50" y2="232.50" stroke="#000" stroke-width="1.0" />
<line x1="574.50" y1="138.50" x2="579.00" y2="138.50" stroke="#000" stroke-width="1.0" />
<line x1="692.00" y1="138.50" x2="687.50" y2="138.50" stroke="#000" stroke-width="1.0" />
<line x1="574.50" y1="181.50" x2="579.00" y2="181.50" stroke="#000" stroke-width="1.0" />
<line x1="692.00" y1="181.50" x2="687.50" y2="181.50" stroke="#000" stroke-width="1.0" />
<line x1="574.50" y1="223.50" x2="579.00" y2="223.50" stroke="#000" stroke-width="1.0" />
<line x1="692.00" y1="223.50" x2="687.50" y2="223.50" stroke="#000" stroke-width="1.0" />
<text x="570.70" y="140.80" font-size="10.0" text-anchor="end" >0</text>
<text x="570.70" y="184.45" font-size="10.0" text-anchor="end" >-10</text>
<text x="570.70" y="227.10" font-size="10.0" text-anchor="end" >-20</text>
<text x="574.30" y="254.00" font-size="10.0" text-anchor="middle" >0</text>
<text x="613.07" y="254.00" font-size="10.0" text-anchor="middle" >100</text>
<text x="651.84" y="254.00" font-size="10.0" text-anchor="middle" >200</text>
<text x="690.61" y="254.00" font-size="10.0" text-anchor="middle" >300</text>
<text x="633.50" y="264.00" font-size="9.4" text-anchor="middle" >Temperature (K)</text>
<rect x="575.10" y="226.60" width="5.8" height="5.8" fill="#8c8a10" stroke="#2a2a10" stroke-width="0.6"/>
<rect x="582.70" y="224.20" width="5.8" height="5.8" fill="#8c8a10" stroke="#2a2a10" stroke-width="0.6"/>
<rect x="586.70" y="228.60" width="5.8" height="5.8" fill="#8c8a10" stroke="#2a2a10" stroke-width="0.6"/>
<rect x="590.10" y="207.10" width="5.8" height="5.8" fill="#8c8a10" stroke="#2a2a10" stroke-width="0.6"/>
<rect x="594.80" y="203.10" width="5.8" height="5.8" fill="#8c8a10" stroke="#2a2a10" stroke-width="0.6"/>
<rect x="598.10" y="192.50" width="5.8" height="5.8" fill="#8c8a10" stroke="#2a2a10" stroke-width="0.6"/>
<rect x="602.10" y="184.10" width="5.8" height="5.8" fill="#8c8a10" stroke="#2a2a10" stroke-width="0.6"/>
<rect x="610.20" y="171.20" width="5.8" height="5.8" fill="#8c8a10" stroke="#2a2a10" stroke-width="0.6"/>
<rect x="617.60" y="164.20" width="5.8" height="5.8" fill="#8c8a10" stroke="#2a2a10" stroke-width="0.6"/>
<rect x="625.30" y="158.20" width="5.8" height="5.8" fill="#8c8a10" stroke="#2a2a10" stroke-width="0.6"/>
<rect x="633.10" y="152.80" width="5.8" height="5.8" fill="#8c8a10" stroke="#2a2a10" stroke-width="0.6"/>
<rect x="640.70" y="149.70" width="5.8" height="5.8" fill="#8c8a10" stroke="#2a2a10" stroke-width="0.6"/>
<rect x="648.20" y="146.70" width="5.8" height="5.8" fill="#8c8a10" stroke="#2a2a10" stroke-width="0.6"/>
<rect x="656.20" y="143.70" width="5.8" height="5.8" fill="#8c8a10" stroke="#2a2a10" stroke-width="0.6"/>
<rect x="663.60" y="143.50" width="5.8" height="5.8" fill="#8c8a10" stroke="#2a2a10" stroke-width="0.6"/>
<rect x="671.60" y="142.10" width="5.8" height="5.8" fill="#8c8a10" stroke="#2a2a10" stroke-width="0.6"/>
<rect x="679.20" y="140.50" width="5.8" height="5.8" fill="#8c8a10" stroke="#2a2a10" stroke-width="0.6"/>
<rect x="686.90" y="140.10" width="5.8" height="5.8" fill="#8c8a10" stroke="#2a2a10" stroke-width="0.6"/>
<text x="582.00" y="149.50" font-size="10.2" text-anchor="start" >(g)</text>
<text x="620.00" y="215.60" font-size="9.6" text-anchor="start" style="stroke-width:0.15px">&#969; = 125 cm<tspan dy="-4" font-size="6">-1</tspan></text>
<text transform="translate(549,187.5) rotate(-90)" text-anchor="middle"><tspan font-size="9">&#949;</tspan><tspan dy="2.5" font-size="5.5">1a</tspan><tspan dy="-2.5" font-size="9"> / 100</tspan></text>
</svg></body></html>
